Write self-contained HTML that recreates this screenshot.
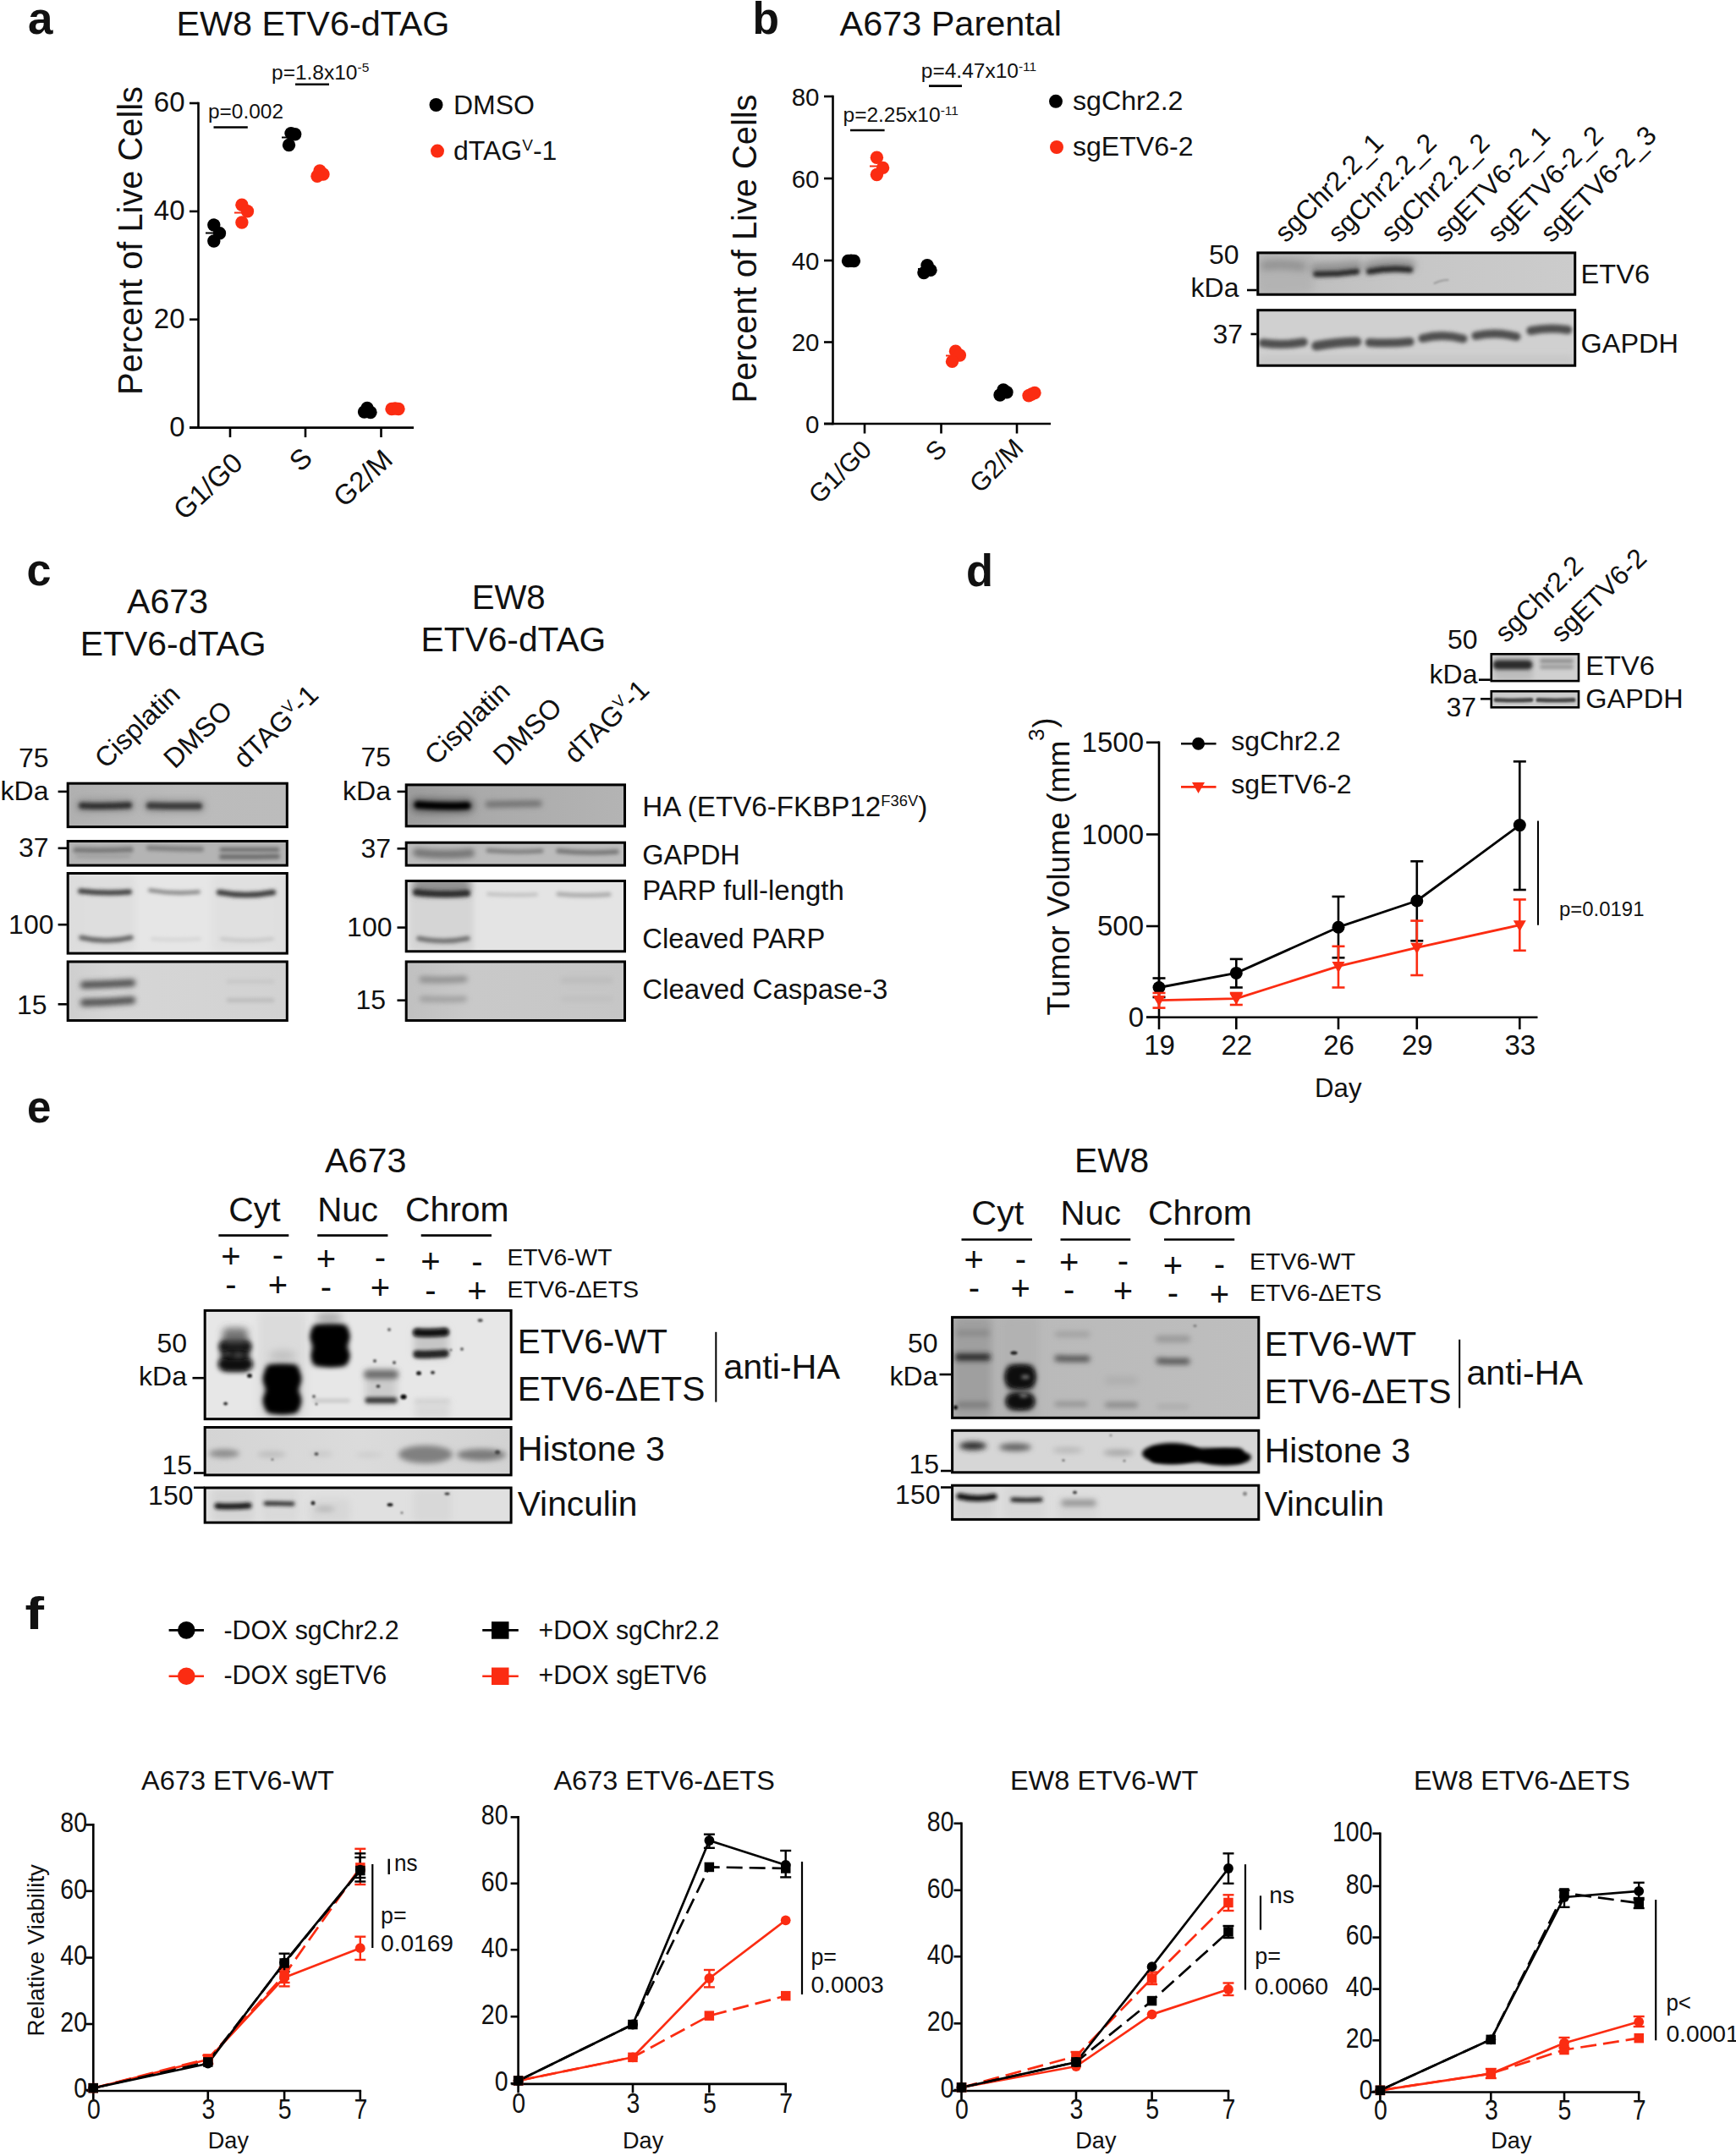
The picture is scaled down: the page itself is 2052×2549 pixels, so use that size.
<!DOCTYPE html>
<html lang="en"><head><meta charset="utf-8"><title>Figure</title>
<style>
html,body{margin:0;padding:0;background:#fff}
svg{display:block}
text{font-family:"Liberation Sans",Arial,Helvetica,sans-serif}
</style></head>
<body>
<svg width="2052" height="2549" viewBox="0 0 2052 2549">
<defs>
<filter id="bl1" x="-5%" y="-15%" width="110%" height="130%"><feGaussianBlur stdDeviation="1"/></filter>
<filter id="bl2" x="-5%" y="-15%" width="110%" height="130%"><feGaussianBlur stdDeviation="2"/></filter>
<filter id="bl3" x="-5%" y="-15%" width="110%" height="130%"><feGaussianBlur stdDeviation="3"/></filter>
<filter id="bl4" x="-5%" y="-15%" width="110%" height="130%"><feGaussianBlur stdDeviation="4"/></filter>
<filter id="bl5" x="-5%" y="-15%" width="110%" height="130%"><feGaussianBlur stdDeviation="5"/></filter>
<filter id="bl6" x="-5%" y="-15%" width="110%" height="130%"><feGaussianBlur stdDeviation="6"/></filter>
<clipPath id="cp1"><rect x="1485.3" y="297.4" width="377.9" height="52.3"/></clipPath>
<linearGradient id="gr1" x1="0" x2="1" y1="0" y2="0"><stop offset="0" stop-color="#bababa"/><stop offset="0.45" stop-color="#c6c6c6"/><stop offset="1" stop-color="#cccccc"/></linearGradient>
<clipPath id="cp2"><rect x="1485.3" y="365.2" width="377.9" height="68.5"/></clipPath>
<clipPath id="cp3"><rect x="78.7" y="924.7" width="262.1" height="54.4"/></clipPath>
<linearGradient id="gr3" x1="0" x2="1" y1="0" y2="0"><stop offset="0" stop-color="#b0b0b0"/><stop offset="0.5" stop-color="#bbbbbb"/><stop offset="1" stop-color="#bcbcbc"/></linearGradient>
<clipPath id="cp4"><rect x="78.7" y="993.0" width="262.1" height="31.6"/></clipPath>
<clipPath id="cp5"><rect x="78.7" y="1031.0" width="262.1" height="97.6"/></clipPath>
<linearGradient id="gr5" x1="0" x2="1" y1="0" y2="0"><stop offset="0" stop-color="#dadada"/><stop offset="0.1" stop-color="#e6e6e6"/><stop offset="0.9" stop-color="#e6e6e6"/><stop offset="1" stop-color="#dcdcdc"/></linearGradient>
<clipPath id="cp6"><rect x="78.7" y="1135.5" width="262.1" height="72.5"/></clipPath>
<linearGradient id="gr6" x1="0" x2="1" y1="0" y2="0"><stop offset="0" stop-color="#cecece"/><stop offset="0.2" stop-color="#d6d6d6"/><stop offset="1" stop-color="#d2d2d2"/></linearGradient>
<clipPath id="cp7"><rect x="478.7" y="926.4" width="261.3" height="51.9"/></clipPath>
<linearGradient id="gr7" x1="0" x2="1" y1="0" y2="0"><stop offset="0" stop-color="#9c9c9c"/><stop offset="0.35" stop-color="#aaaaaa"/><stop offset="1" stop-color="#b4b4b4"/></linearGradient>
<clipPath id="cp8"><rect x="478.7" y="994.7" width="261.3" height="29.9"/></clipPath>
<clipPath id="cp9"><rect x="478.7" y="1040.0" width="261.3" height="86.3"/></clipPath>
<clipPath id="cp10"><rect x="478.7" y="1135.5" width="261.3" height="72.5"/></clipPath>
<linearGradient id="gr10" x1="0" x2="1" y1="0" y2="0"><stop offset="0" stop-color="#c0c0c0"/><stop offset="0.3" stop-color="#c9c9c9"/><stop offset="1" stop-color="#c6c6c6"/></linearGradient>
<clipPath id="cp11"><rect x="1761.5" y="772.0" width="105.8" height="34.4"/></clipPath>
<clipPath id="cp12"><rect x="1761.5" y="816.0" width="105.8" height="21.6"/></clipPath>
<clipPath id="cp13"><rect x="240.7" y="1547.9" width="364.9" height="131.3"/></clipPath>
<clipPath id="cp14"><rect x="240.7" y="1686.0" width="364.9" height="59.4"/></clipPath>
<linearGradient id="gr14" x1="0" x2="1" y1="0" y2="0"><stop offset="0" stop-color="#d4d4d4"/><stop offset="0.5" stop-color="#dbdbdb"/><stop offset="1" stop-color="#d2d2d2"/></linearGradient>
<clipPath id="cp15"><rect x="240.7" y="1757.5" width="364.9" height="44.1"/></clipPath>
<clipPath id="cp16"><rect x="1124.1" y="1555.9" width="365.2" height="121.9"/></clipPath>
<linearGradient id="gr16" x1="0" x2="1" y1="0" y2="0"><stop offset="0" stop-color="#b0b0b0"/><stop offset="0.3" stop-color="#bababa"/><stop offset="1" stop-color="#bebebe"/></linearGradient>
<clipPath id="cp17"><rect x="1124.1" y="1689.8" width="365.2" height="52.5"/></clipPath>
<clipPath id="cp18"><rect x="1124.1" y="1754.7" width="365.2" height="43.2"/></clipPath>
</defs>
<rect width="2052" height="2549" fill="#fff"/>
<g fill="#111">
<text x="33.0" y="39.5" font-size="54" font-weight="bold" textLength="29.5" lengthAdjust="spacingAndGlyphs">a</text>
<text x="208.5" y="41.5" font-size="40" textLength="323.0" lengthAdjust="spacingAndGlyphs">EW8 ETV6-dTAG</text>
<line x1="234.5" y1="120.7" x2="234.5" y2="506.9" stroke="#000" stroke-width="2.6"/>
<line x1="224.0" y1="505.6" x2="489.0" y2="505.6" stroke="#000" stroke-width="2.6"/>
<line x1="224.0" y1="122.0" x2="234.5" y2="122.0" stroke="#000" stroke-width="2.6"/>
<text x="218.5" y="132.3" font-size="33" text-anchor="end">60</text>
<line x1="224.0" y1="249.9" x2="234.5" y2="249.9" stroke="#000" stroke-width="2.6"/>
<text x="218.5" y="260.2" font-size="33" text-anchor="end">40</text>
<line x1="224.0" y1="377.7" x2="234.5" y2="377.7" stroke="#000" stroke-width="2.6"/>
<text x="218.5" y="388.0" font-size="33" text-anchor="end">20</text>
<line x1="224.0" y1="505.6" x2="234.5" y2="505.6" stroke="#000" stroke-width="2.6"/>
<text x="218.5" y="515.9" font-size="33" text-anchor="end">0</text>
<line x1="272.0" y1="505.6" x2="272.0" y2="517.0" stroke="#000" stroke-width="2.6"/>
<line x1="361.0" y1="505.6" x2="361.0" y2="517.0" stroke="#000" stroke-width="2.6"/>
<line x1="450.5" y1="505.6" x2="450.5" y2="517.0" stroke="#000" stroke-width="2.6"/>
<text x="168.0" y="284.5" font-size="40" text-anchor="middle" transform="rotate(-90 168.0 284.5)" textLength="365.0" lengthAdjust="spacingAndGlyphs">Percent of Live Cells</text>
<text x="289.0" y="550.0" font-size="33" text-anchor="end" transform="rotate(-43 289.0 550.0)">G1/G0</text>
<text x="371.0" y="544.0" font-size="33" text-anchor="end" transform="rotate(-43 371.0 544.0)">S</text>
<text x="466.0" y="546.0" font-size="33" text-anchor="end" transform="rotate(-43 466.0 546.0)">G2/M</text>
<text x="321.0" y="93.5" font-size="24.5">p=1.8x10<tspan font-size="15.5" dy="-8.5">-5</tspan></text>
<line x1="349.0" y1="99.8" x2="389.0" y2="99.8" stroke="#000" stroke-width="2.6"/>
<text x="246.0" y="140.0" font-size="24.5" textLength="89.0" lengthAdjust="spacingAndGlyphs">p=0.002</text>
<line x1="252.5" y1="150.5" x2="292.8" y2="150.5" stroke="#000" stroke-width="2.6"/>
<circle cx="252.8" cy="266.0" r="7.7" fill="#000"/>
<circle cx="259.5" cy="275.7" r="7.7" fill="#000"/>
<circle cx="252.8" cy="285.0" r="7.7" fill="#000"/>
<line x1="243.0" y1="275.5" x2="262.0" y2="275.5" stroke="#000" stroke-width="2"/>
<circle cx="285.9" cy="242.3" r="7.7" fill="#fb2c12"/>
<circle cx="292.5" cy="249.8" r="7.7" fill="#fb2c12"/>
<circle cx="285.9" cy="263.0" r="7.7" fill="#fb2c12"/>
<line x1="277.0" y1="251.5" x2="296.0" y2="251.5" stroke="#fb2c12" stroke-width="2"/>
<circle cx="348.7" cy="158.8" r="7.7" fill="#000"/>
<circle cx="344.0" cy="157.6" r="7.7" fill="#000"/>
<circle cx="341.5" cy="171.5" r="7.7" fill="#000"/>
<line x1="333.0" y1="162.5" x2="352.0" y2="162.5" stroke="#000" stroke-width="2"/>
<circle cx="378.0" cy="202.0" r="7.7" fill="#fb2c12"/>
<circle cx="382.0" cy="206.0" r="7.7" fill="#fb2c12"/>
<circle cx="375.0" cy="208.3" r="7.7" fill="#fb2c12"/>
<circle cx="430.6" cy="487.0" r="7.7" fill="#000"/>
<circle cx="438.0" cy="487.5" r="7.7" fill="#000"/>
<circle cx="434.0" cy="482.5" r="7.7" fill="#000"/>
<circle cx="463.0" cy="483.5" r="7.7" fill="#fb2c12"/>
<circle cx="467.0" cy="483.0" r="7.7" fill="#fb2c12"/>
<circle cx="471.0" cy="483.5" r="7.7" fill="#fb2c12"/>
<circle cx="515.5" cy="124.0" r="8" fill="#000"/>
<text x="536.0" y="134.8" font-size="32" textLength="96.0" lengthAdjust="spacingAndGlyphs">DMSO</text>
<circle cx="517.0" cy="178.6" r="8" fill="#fb2c12"/>
<text x="536.0" y="188.7" font-size="32">dTAG<tspan font-size="19" dy="-11">V</tspan><tspan dy="11">-1</tspan></text>
<text x="889.5" y="40.3" font-size="54" font-weight="bold" textLength="31.5" lengthAdjust="spacingAndGlyphs">b</text>
<text x="992.5" y="41.5" font-size="40" textLength="262.5" lengthAdjust="spacingAndGlyphs">A673 Parental</text>
<line x1="984.5" y1="112.8" x2="984.5" y2="502.3" stroke="#000" stroke-width="2.6"/>
<line x1="974.0" y1="501.0" x2="1242.0" y2="501.0" stroke="#000" stroke-width="2.6"/>
<line x1="974.0" y1="114.0" x2="984.5" y2="114.0" stroke="#000" stroke-width="2.6"/>
<text x="968.5" y="124.6" font-size="29.5" text-anchor="end">80</text>
<line x1="974.0" y1="211.0" x2="984.5" y2="211.0" stroke="#000" stroke-width="2.6"/>
<text x="968.5" y="221.6" font-size="29.5" text-anchor="end">60</text>
<line x1="974.0" y1="308.0" x2="984.5" y2="308.0" stroke="#000" stroke-width="2.6"/>
<text x="968.5" y="318.6" font-size="29.5" text-anchor="end">40</text>
<line x1="974.0" y1="404.5" x2="984.5" y2="404.5" stroke="#000" stroke-width="2.6"/>
<text x="968.5" y="415.1" font-size="29.5" text-anchor="end">20</text>
<line x1="974.0" y1="501.0" x2="984.5" y2="501.0" stroke="#000" stroke-width="2.6"/>
<text x="968.5" y="511.6" font-size="29.5" text-anchor="end">0</text>
<line x1="1022.0" y1="501.0" x2="1022.0" y2="512.5" stroke="#000" stroke-width="2.6"/>
<line x1="1112.5" y1="501.0" x2="1112.5" y2="512.5" stroke="#000" stroke-width="2.6"/>
<line x1="1202.0" y1="501.0" x2="1202.0" y2="512.5" stroke="#000" stroke-width="2.6"/>
<text x="893.5" y="294.0" font-size="40" text-anchor="middle" transform="rotate(-90 893.5 294.0)" textLength="365.0" lengthAdjust="spacingAndGlyphs">Percent of Live Cells</text>
<text x="1032.0" y="533.5" font-size="30.5" text-anchor="end" transform="rotate(-45 1032.0 533.5)">G1/G0</text>
<text x="1121.0" y="532.6" font-size="30.5" text-anchor="end" transform="rotate(-45 1121.0 532.6)">S</text>
<text x="1211.5" y="531.5" font-size="30.5" text-anchor="end" transform="rotate(-45 1211.5 531.5)">G2/M</text>
<text x="1088.8" y="92.0" font-size="24.5">p=4.47x10<tspan font-size="15.5" dy="-8.5">-11</tspan></text>
<line x1="1098.0" y1="101.6" x2="1137.0" y2="101.6" stroke="#000" stroke-width="2.6"/>
<text x="996.5" y="144.0" font-size="24.5">p=2.25x10<tspan font-size="15.5" dy="-8.5">-11</tspan></text>
<line x1="1005.0" y1="154.0" x2="1045.6" y2="154.0" stroke="#000" stroke-width="2.6"/>
<circle cx="1036.4" cy="186.3" r="7.7" fill="#fb2c12"/>
<circle cx="1043.6" cy="198.4" r="7.7" fill="#fb2c12"/>
<circle cx="1036.4" cy="206.5" r="7.7" fill="#fb2c12"/>
<line x1="1028.0" y1="196.5" x2="1046.0" y2="196.5" stroke="#fb2c12" stroke-width="2"/>
<circle cx="1002.5" cy="308.5" r="7.7" fill="#000"/>
<circle cx="1006.0" cy="308.3" r="7.7" fill="#000"/>
<circle cx="1009.4" cy="308.5" r="7.7" fill="#000"/>
<circle cx="1096.0" cy="313.7" r="7.7" fill="#000"/>
<circle cx="1100.0" cy="319.4" r="7.7" fill="#000"/>
<circle cx="1092.0" cy="322.6" r="7.7" fill="#000"/>
<line x1="1085.0" y1="318.0" x2="1103.0" y2="318.0" stroke="#000" stroke-width="2"/>
<circle cx="1129.5" cy="415.3" r="7.7" fill="#fb2c12"/>
<circle cx="1134.4" cy="420.0" r="7.7" fill="#fb2c12"/>
<circle cx="1125.5" cy="427.4" r="7.7" fill="#fb2c12"/>
<line x1="1118.0" y1="420.5" x2="1137.0" y2="420.5" stroke="#fb2c12" stroke-width="2"/>
<circle cx="1186.0" cy="461.0" r="7.7" fill="#000"/>
<circle cx="1182.0" cy="467.0" r="7.7" fill="#000"/>
<circle cx="1190.0" cy="463.7" r="7.7" fill="#000"/>
<circle cx="1216.0" cy="467.7" r="7.7" fill="#fb2c12"/>
<circle cx="1219.5" cy="466.0" r="7.7" fill="#fb2c12"/>
<circle cx="1223.0" cy="464.5" r="7.7" fill="#fb2c12"/>
<circle cx="1248.0" cy="119.8" r="8" fill="#000"/>
<text x="1268.0" y="129.8" font-size="32" textLength="130.5" lengthAdjust="spacingAndGlyphs">sgChr2.2</text>
<circle cx="1249.0" cy="174.0" r="8" fill="#fb2c12"/>
<text x="1268.0" y="184.0" font-size="32" textLength="142.5" lengthAdjust="spacingAndGlyphs">sgETV6-2</text>
<text x="1520.0" y="288.0" font-size="32" transform="rotate(-45 1520.0 288.0)">sgChr2.2_1</text>
<text x="1582.8" y="288.0" font-size="32" transform="rotate(-45 1582.8 288.0)">sgChr2.2_2</text>
<text x="1645.6" y="288.0" font-size="32" transform="rotate(-45 1645.6 288.0)">sgChr2.2_2</text>
<text x="1708.4" y="288.0" font-size="32" transform="rotate(-45 1708.4 288.0)">sgETV6-2_1</text>
<text x="1771.2" y="288.0" font-size="32" transform="rotate(-45 1771.2 288.0)">sgETV6-2_2</text>
<text x="1834.0" y="288.0" font-size="32" transform="rotate(-45 1834.0 288.0)">sgETV6-2_3</text>
<text x="1464.5" y="312.0" font-size="32" text-anchor="end">50</text>
<text x="1464.5" y="351.0" font-size="32" text-anchor="end">kDa</text>
<text x="1469.0" y="405.8" font-size="32" text-anchor="end">37</text>
<line x1="1474.0" y1="343.0" x2="1486.0" y2="343.0" stroke="#000" stroke-width="2.6"/>
<line x1="1478.5" y1="395.0" x2="1486.0" y2="395.0" stroke="#000" stroke-width="2.6"/>
<g clip-path="url(#cp1)">
<rect x="1485.3" y="297.4" width="377.9" height="52.3" fill="url(#gr1)"/>
<g filter="url(#bl5)"><rect x="1485.3" y="297.4" width="377.9" height="52.3" fill="none"/><rect x="1488.0" y="300.0" width="64.0" height="47.0" rx="6" fill="#b0b0b0" opacity="0.8"/></g>
<g filter="url(#bl4)"><rect x="1485.3" y="297.4" width="377.9" height="52.3" fill="none"/><path d="M1494.8 314.0 Q1516.8 311.5 1538.8 315.0" fill="none" stroke="#909090" stroke-width="10" stroke-linecap="round"/></g>
<g filter="url(#bl4)"><rect x="1485.3" y="297.4" width="377.9" height="52.3" fill="none"/><path d="M1555.7 318.0 Q1579.7 317.5 1603.7 315.0" fill="none" stroke="#808080" stroke-width="14" stroke-linecap="round" opacity="0.7"/></g>
<g filter="url(#bl2)"><rect x="1485.3" y="297.4" width="377.9" height="52.3" fill="none"/><path d="M1555.7 324.0 Q1579.7 324.5 1603.7 321.0" fill="none" stroke="#2a2a2a" stroke-width="7" stroke-linecap="round"/></g>
<g filter="url(#bl4)"><rect x="1485.3" y="297.4" width="377.9" height="52.3" fill="none"/><path d="M1618.6 316.0 Q1642.6 311.0 1666.6 314.0" fill="none" stroke="#808080" stroke-width="14" stroke-linecap="round" opacity="0.7"/></g>
<g filter="url(#bl2)"><rect x="1485.3" y="297.4" width="377.9" height="52.3" fill="none"/><path d="M1618.6 321.0 Q1642.6 316.0 1666.6 319.0" fill="none" stroke="#2a2a2a" stroke-width="7" stroke-linecap="round"/></g>
<g filter="url(#bl1)"><rect x="1485.3" y="297.4" width="377.9" height="52.3" fill="none"/><path d="M1695.5 335.0 Q1703.5 331.0 1711.5 331.0" fill="none" stroke="#9a9a9a" stroke-width="2" stroke-linecap="round"/></g>
</g>
<rect x="1486.8" y="298.9" width="374.9" height="49.3" fill="none" stroke="#000" stroke-width="3"/>
<g clip-path="url(#cp2)">
<rect x="1485.3" y="365.2" width="377.9" height="68.5" fill="#d0d0d0"/>
<g filter="url(#bl2)"><rect x="1485.3" y="365.2" width="377.9" height="68.5" fill="none"/><path d="M1492.8 405.5 Q1516.8 409.0 1540.8 404.5" fill="none" stroke="#505050" stroke-width="10" stroke-linecap="round"/></g>
<g filter="url(#bl2)"><rect x="1485.3" y="365.2" width="377.9" height="68.5" fill="none"/><path d="M1555.7 409.0 Q1579.7 404.5 1603.7 404.0" fill="none" stroke="#505050" stroke-width="11" stroke-linecap="round"/></g>
<g filter="url(#bl2)"><rect x="1485.3" y="365.2" width="377.9" height="68.5" fill="none"/><path d="M1618.6 405.0 Q1642.6 406.5 1666.6 404.0" fill="none" stroke="#505050" stroke-width="10" stroke-linecap="round"/></g>
<g filter="url(#bl2)"><rect x="1485.3" y="365.2" width="377.9" height="68.5" fill="none"/><path d="M1681.5 400.0 Q1705.5 393.8 1729.5 400.5" fill="none" stroke="#505050" stroke-width="10" stroke-linecap="round"/></g>
<g filter="url(#bl2)"><rect x="1485.3" y="365.2" width="377.9" height="68.5" fill="none"/><path d="M1744.4 397.0 Q1768.4 391.5 1792.4 398.0" fill="none" stroke="#505050" stroke-width="10" stroke-linecap="round"/></g>
<g filter="url(#bl2)"><rect x="1485.3" y="365.2" width="377.9" height="68.5" fill="none"/><path d="M1809.3 391.0 Q1831.3 386.5 1853.3 390.0" fill="none" stroke="#505050" stroke-width="10" stroke-linecap="round"/></g>
<g filter="url(#bl3)"><rect x="1485.3" y="365.2" width="377.9" height="68.5" fill="none"/><rect x="1488.0" y="420.0" width="372.0" height="12.0" rx="6" fill="#c4c4c4" opacity="0.7"/></g>
</g>
<rect x="1486.8" y="366.7" width="374.9" height="65.5" fill="none" stroke="#000" stroke-width="3"/>
<text x="1868.6" y="335.0" font-size="32" textLength="81.4" lengthAdjust="spacingAndGlyphs">ETV6</text>
<text x="1868.6" y="416.7" font-size="32" textLength="115.4" lengthAdjust="spacingAndGlyphs">GAPDH</text>
<text x="31.5" y="692.3" font-size="54" font-weight="bold" textLength="29.0" lengthAdjust="spacingAndGlyphs">c</text>
<text x="150.0" y="725.4" font-size="40" textLength="96.0" lengthAdjust="spacingAndGlyphs">A673</text>
<text x="94.8" y="775.0" font-size="40" textLength="219.7" lengthAdjust="spacingAndGlyphs">ETV6-dTAG</text>
<text x="557.7" y="719.7" font-size="40" textLength="87.0" lengthAdjust="spacingAndGlyphs">EW8</text>
<text x="497.6" y="769.8" font-size="40" textLength="218.6" lengthAdjust="spacingAndGlyphs">ETV6-dTAG</text>
<text x="125.0" y="910.0" font-size="32.5" transform="rotate(-44 125.0 910.0)">Cisplatin</text>
<text x="206.5" y="910.0" font-size="32.5" transform="rotate(-44 206.5 910.0)">DMSO</text>
<text x="289.0" y="910.0" font-size="32.5" transform="rotate(-44 289.0 910.0)">dTAG<tspan font-size="19" dy="-11">V</tspan><tspan dy="11">-1</tspan></text>
<text x="515.0" y="906.0" font-size="32.5" transform="rotate(-44 515.0 906.0)">Cisplatin</text>
<text x="596.0" y="906.5" font-size="32.5" transform="rotate(-44 596.0 906.5)">DMSO</text>
<text x="680.0" y="904.0" font-size="32.5" transform="rotate(-44 680.0 904.0)">dTAG<tspan font-size="19" dy="-11">V</tspan><tspan dy="11">-1</tspan></text>
<text x="57.5" y="906.9" font-size="32" text-anchor="end">75</text>
<text x="57.5" y="946.4" font-size="32" text-anchor="end">kDa</text>
<text x="57.5" y="1013.0" font-size="32" text-anchor="end">37</text>
<text x="63.5" y="1103.8" font-size="32" text-anchor="end">100</text>
<text x="55.5" y="1198.5" font-size="32" text-anchor="end">15</text>
<line x1="68.6" y1="935.9" x2="80.0" y2="935.9" stroke="#000" stroke-width="2.6"/>
<line x1="68.6" y1="1002.8" x2="80.0" y2="1002.8" stroke="#000" stroke-width="2.6"/>
<line x1="68.6" y1="1093.2" x2="80.0" y2="1093.2" stroke="#000" stroke-width="2.6"/>
<line x1="68.6" y1="1187.3" x2="80.0" y2="1187.3" stroke="#000" stroke-width="2.6"/>
<text x="462.0" y="905.7" font-size="32" text-anchor="end">75</text>
<text x="462.0" y="945.6" font-size="32" text-anchor="end">kDa</text>
<text x="462.0" y="1013.7" font-size="32" text-anchor="end">37</text>
<text x="463.5" y="1107.0" font-size="32" text-anchor="end">100</text>
<text x="456.0" y="1192.5" font-size="32" text-anchor="end">15</text>
<line x1="469.5" y1="935.9" x2="480.0" y2="935.9" stroke="#000" stroke-width="2.6"/>
<line x1="469.5" y1="1003.3" x2="480.0" y2="1003.3" stroke="#000" stroke-width="2.6"/>
<line x1="469.5" y1="1096.6" x2="480.0" y2="1096.6" stroke="#000" stroke-width="2.6"/>
<line x1="469.5" y1="1182.7" x2="480.0" y2="1182.7" stroke="#000" stroke-width="2.6"/>
<g clip-path="url(#cp3)">
<rect x="78.7" y="924.7" width="262.1" height="54.4" fill="url(#gr3)"/>
<g filter="url(#bl4)"><rect x="78.7" y="924.7" width="262.1" height="54.4" fill="none"/><path d="M97.0 952.5 Q124.5 951.8 152.0 952.0" fill="none" stroke="#8a8a8a" stroke-width="16" stroke-linecap="round" opacity="0.7"/></g>
<g filter="url(#bl2)"><rect x="78.7" y="924.7" width="262.1" height="54.4" fill="none"/><path d="M97.0 952.5 Q124.5 953.8 152.0 952.0" fill="none" stroke="#333" stroke-width="8" stroke-linecap="round"/></g>
<g filter="url(#bl4)"><rect x="78.7" y="924.7" width="262.1" height="54.4" fill="none"/><path d="M177.0 952.5 Q206.0 953.2 235.0 953.0" fill="none" stroke="#8a8a8a" stroke-width="16" stroke-linecap="round" opacity="0.7"/></g>
<g filter="url(#bl2)"><rect x="78.7" y="924.7" width="262.1" height="54.4" fill="none"/><path d="M177.0 952.5 Q206.0 953.2 235.0 953.0" fill="none" stroke="#3a3a3a" stroke-width="8" stroke-linecap="round"/></g>
</g>
<rect x="80.2" y="926.2" width="259.1" height="51.4" fill="none" stroke="#000" stroke-width="3"/>
<g clip-path="url(#cp4)">
<rect x="78.7" y="993.0" width="262.1" height="31.6" fill="#b4b4b4"/>
<g filter="url(#bl2)"><rect x="78.7" y="993.0" width="262.1" height="31.6" fill="none"/><path d="M90.0 1005.0 Q122.0 1006.2 154.0 1004.5" fill="none" stroke="#7a7a7a" stroke-width="7" stroke-linecap="round"/></g>
<g filter="url(#bl2)"><rect x="78.7" y="993.0" width="262.1" height="31.6" fill="none"/><path d="M92.0 1012.0 Q122.0 1013.0 152.0 1012.0" fill="none" stroke="#a0a0a0" stroke-width="5" stroke-linecap="round"/></g>
<g filter="url(#bl2)"><rect x="78.7" y="993.0" width="262.1" height="31.6" fill="none"/><path d="M176.0 1002.5 Q207.0 1003.8 238.0 1004.0" fill="none" stroke="#808080" stroke-width="6" stroke-linecap="round"/></g>
<g filter="url(#bl2)"><rect x="78.7" y="993.0" width="262.1" height="31.6" fill="none"/><path d="M262.0 1004.5 Q295.0 1004.5 328.0 1004.5" fill="none" stroke="#6c6c6c" stroke-width="5" stroke-linecap="round"/></g>
<g filter="url(#bl2)"><rect x="78.7" y="993.0" width="262.1" height="31.6" fill="none"/><path d="M262.0 1013.0 Q295.0 1013.2 328.0 1012.5" fill="none" stroke="#6c6c6c" stroke-width="6" stroke-linecap="round"/></g>
</g>
<rect x="80.2" y="994.5" width="259.1" height="28.6" fill="none" stroke="#000" stroke-width="3"/>
<g clip-path="url(#cp5)">
<rect x="78.7" y="1031.0" width="262.1" height="97.6" fill="url(#gr5)"/>
<g filter="url(#bl4)"><rect x="78.7" y="1031.0" width="262.1" height="97.6" fill="none"/><rect x="84.0" y="1034.0" width="76.0" height="92.0" rx="6" fill="#dcdcdc" opacity="0.8"/></g>
<g filter="url(#bl4)"><rect x="78.7" y="1031.0" width="262.1" height="97.6" fill="none"/><rect x="250.0" y="1034.0" width="84.0" height="92.0" rx="6" fill="#dedede" opacity="0.8"/></g>
<g filter="url(#bl2)"><rect x="78.7" y="1031.0" width="262.1" height="97.6" fill="none"/><path d="M95.0 1053.5 Q124.0 1057.0 153.0 1054.5" fill="none" stroke="#3c3c3c" stroke-width="6" stroke-linecap="round"/></g>
<g filter="url(#bl2)"><rect x="78.7" y="1031.0" width="262.1" height="97.6" fill="none"/><path d="M177.0 1052.5 Q206.0 1057.5 235.0 1054.5" fill="none" stroke="#7c7c7c" stroke-width="4" stroke-linecap="round"/></g>
<g filter="url(#bl2)"><rect x="78.7" y="1031.0" width="262.1" height="97.6" fill="none"/><path d="M259.0 1055.0 Q291.0 1061.0 323.0 1055.0" fill="none" stroke="#3c3c3c" stroke-width="6.5" stroke-linecap="round"/></g>
<g filter="url(#bl2)"><rect x="78.7" y="1031.0" width="262.1" height="97.6" fill="none"/><path d="M96.0 1108.5 Q125.5 1115.5 155.0 1108.5" fill="none" stroke="#606060" stroke-width="5.5" stroke-linecap="round"/></g>
<g filter="url(#bl2)"><rect x="78.7" y="1031.0" width="262.1" height="97.6" fill="none"/><path d="M180.0 1110.0 Q208.0 1112.0 236.0 1110.0" fill="none" stroke="#d4d4d4" stroke-width="4" stroke-linecap="round"/></g>
<g filter="url(#bl2)"><rect x="78.7" y="1031.0" width="262.1" height="97.6" fill="none"/><path d="M262.0 1110.0 Q292.0 1114.0 322.0 1110.0" fill="none" stroke="#c6c6c6" stroke-width="4" stroke-linecap="round"/></g>
</g>
<rect x="80.2" y="1032.5" width="259.1" height="94.6" fill="none" stroke="#000" stroke-width="3"/>
<g clip-path="url(#cp6)">
<rect x="78.7" y="1135.5" width="262.1" height="72.5" fill="url(#gr6)"/>
<g filter="url(#bl3)"><rect x="78.7" y="1135.5" width="262.1" height="72.5" fill="none"/><path d="M99.0 1164.5 Q127.5 1163.8 156.0 1162.0" fill="none" stroke="#4c4c4c" stroke-width="8.5" stroke-linecap="round"/></g>
<g filter="url(#bl3)"><rect x="78.7" y="1135.5" width="262.1" height="72.5" fill="none"/><path d="M99.0 1185.5 Q127.5 1185.0 156.0 1182.5" fill="none" stroke="#4c4c4c" stroke-width="8.5" stroke-linecap="round"/></g>
<g filter="url(#bl2)"><rect x="78.7" y="1135.5" width="262.1" height="72.5" fill="none"/><path d="M270.0 1160.5 Q296.0 1160.5 322.0 1160.5" fill="none" stroke="#c8c8c8" stroke-width="5" stroke-linecap="round"/></g>
<g filter="url(#bl2)"><rect x="78.7" y="1135.5" width="262.1" height="72.5" fill="none"/><path d="M270.0 1182.5 Q296.0 1182.5 322.0 1182.5" fill="none" stroke="#bcbcbc" stroke-width="5" stroke-linecap="round"/></g>
</g>
<rect x="80.2" y="1137.0" width="259.1" height="69.5" fill="none" stroke="#000" stroke-width="3"/>
<g clip-path="url(#cp7)">
<rect x="478.7" y="926.4" width="261.3" height="51.9" fill="url(#gr7)"/>
<g filter="url(#bl4)"><rect x="478.7" y="926.4" width="261.3" height="51.9" fill="none"/><path d="M494.0 952.0 Q523.0 953.8 552.0 952.5" fill="none" stroke="#5a5a5a" stroke-width="18" stroke-linecap="round" opacity="0.8"/></g>
<g filter="url(#bl2)"><rect x="478.7" y="926.4" width="261.3" height="51.9" fill="none"/><path d="M494.0 951.5 Q523.0 954.0 552.0 952.5" fill="none" stroke="#060606" stroke-width="9" stroke-linecap="round"/></g>
<g filter="url(#bl3)"><rect x="478.7" y="926.4" width="261.3" height="51.9" fill="none"/><path d="M577.0 951.0 Q607.0 950.5 637.0 950.0" fill="none" stroke="#6c6c6c" stroke-width="7" stroke-linecap="round"/></g>
</g>
<rect x="480.2" y="927.9" width="258.3" height="48.9" fill="none" stroke="#000" stroke-width="3"/>
<g clip-path="url(#cp8)">
<rect x="478.7" y="994.7" width="261.3" height="29.9" fill="#bcbcbc"/>
<g filter="url(#bl3)"><rect x="478.7" y="994.7" width="261.3" height="29.9" fill="none"/><path d="M493.0 1008.0 Q524.5 1011.8 556.0 1008.5" fill="none" stroke="#747474" stroke-width="10" stroke-linecap="round"/></g>
<g filter="url(#bl2)"><rect x="478.7" y="994.7" width="261.3" height="29.9" fill="none"/><path d="M577.0 1005.5 Q608.5 1008.2 640.0 1006.0" fill="none" stroke="#7c7c7c" stroke-width="5" stroke-linecap="round"/></g>
<g filter="url(#bl2)"><rect x="478.7" y="994.7" width="261.3" height="29.9" fill="none"/><path d="M660.0 1006.0 Q694.5 1009.5 729.0 1007.0" fill="none" stroke="#747474" stroke-width="5.5" stroke-linecap="round"/></g>
</g>
<rect x="480.2" y="996.2" width="258.3" height="26.9" fill="none" stroke="#000" stroke-width="3"/>
<g clip-path="url(#cp9)">
<rect x="478.7" y="1040.0" width="261.3" height="86.3" fill="#e4e4e4"/>
<g filter="url(#bl3)"><rect x="478.7" y="1040.0" width="261.3" height="86.3" fill="none"/><rect x="484.0" y="1040.0" width="76.0" height="86.0" rx="6" fill="#d4d4d4" opacity="0.9"/></g>
<g filter="url(#bl4)"><rect x="478.7" y="1040.0" width="261.3" height="86.3" fill="none"/><rect x="488.0" y="1038.0" width="68.0" height="20.0" rx="6" fill="#808080" opacity="0.8"/></g>
<g filter="url(#bl2)"><rect x="478.7" y="1040.0" width="261.3" height="86.3" fill="none"/><path d="M492.0 1055.0 Q522.0 1058.5 552.0 1056.0" fill="none" stroke="#2c2c2c" stroke-width="8" stroke-linecap="round"/></g>
<g filter="url(#bl2)"><rect x="478.7" y="1040.0" width="261.3" height="86.3" fill="none"/><path d="M577.0 1057.0 Q605.5 1058.8 634.0 1057.5" fill="none" stroke="#bebebe" stroke-width="4" stroke-linecap="round"/></g>
<g filter="url(#bl2)"><rect x="478.7" y="1040.0" width="261.3" height="86.3" fill="none"/><path d="M660.0 1057.0 Q690.0 1059.8 720.0 1057.5" fill="none" stroke="#a8a8a8" stroke-width="5" stroke-linecap="round"/></g>
<g filter="url(#bl2)"><rect x="478.7" y="1040.0" width="261.3" height="86.3" fill="none"/><path d="M495.0 1109.5 Q524.0 1115.5 553.0 1109.5" fill="none" stroke="#6c6c6c" stroke-width="5.5" stroke-linecap="round"/></g>
</g>
<rect x="480.2" y="1041.5" width="258.3" height="83.3" fill="none" stroke="#000" stroke-width="3"/>
<g clip-path="url(#cp10)">
<rect x="478.7" y="1135.5" width="261.3" height="72.5" fill="url(#gr10)"/>
<g filter="url(#bl3)"><rect x="478.7" y="1135.5" width="261.3" height="72.5" fill="none"/><path d="M499.0 1158.0 Q524.0 1159.2 549.0 1157.5" fill="none" stroke="#8c8c8c" stroke-width="7" stroke-linecap="round"/></g>
<g filter="url(#bl3)"><rect x="478.7" y="1135.5" width="261.3" height="72.5" fill="none"/><path d="M499.0 1181.0 Q524.0 1182.0 549.0 1181.0" fill="none" stroke="#9a9a9a" stroke-width="6" stroke-linecap="round"/></g>
<g filter="url(#bl3)"><rect x="478.7" y="1135.5" width="261.3" height="72.5" fill="none"/><path d="M665.0 1159.0 Q693.5 1159.0 722.0 1159.0" fill="none" stroke="#b8b8b8" stroke-width="5" stroke-linecap="round"/></g>
<g filter="url(#bl3)"><rect x="478.7" y="1135.5" width="261.3" height="72.5" fill="none"/><path d="M665.0 1181.0 Q693.5 1181.0 722.0 1181.0" fill="none" stroke="#bebebe" stroke-width="5" stroke-linecap="round"/></g>
</g>
<rect x="480.2" y="1137.0" width="258.3" height="69.5" fill="none" stroke="#000" stroke-width="3"/>
<text x="759.3" y="965.4" font-size="32.5" textLength="337.0" lengthAdjust="spacingAndGlyphs">HA (ETV6-FKBP12<tspan font-size="18" dy="-12">F36V</tspan><tspan dy="12">)</tspan></text>
<text x="759.3" y="1022.0" font-size="32.5" textLength="115.5" lengthAdjust="spacingAndGlyphs">GAPDH</text>
<text x="759.3" y="1064.2" font-size="32.5" textLength="238.4" lengthAdjust="spacingAndGlyphs">PARP full-length</text>
<text x="759.3" y="1121.0" font-size="32.5" textLength="216.0" lengthAdjust="spacingAndGlyphs">Cleaved PARP</text>
<text x="759.3" y="1180.7" font-size="32.5" textLength="290.0" lengthAdjust="spacingAndGlyphs">Cleaved Caspase-3</text>
<text x="1142.0" y="692.6" font-size="54" font-weight="bold" textLength="32.0" lengthAdjust="spacingAndGlyphs">d</text>
<text x="1780.0" y="761.0" font-size="32" transform="rotate(-44 1780.0 761.0)">sgChr2.2</text>
<text x="1846.0" y="761.0" font-size="32" transform="rotate(-44 1846.0 761.0)">sgETV6-2</text>
<text x="1746.5" y="767.2" font-size="32" text-anchor="end">50</text>
<text x="1746.5" y="807.5" font-size="32" text-anchor="end">kDa</text>
<text x="1745.0" y="846.7" font-size="32" text-anchor="end">37</text>
<line x1="1748.0" y1="803.7" x2="1762.0" y2="803.7" stroke="#000" stroke-width="2.6"/>
<line x1="1750.0" y1="826.3" x2="1762.0" y2="826.3" stroke="#000" stroke-width="2.6"/>
<g clip-path="url(#cp11)">
<rect x="1761.5" y="772.0" width="105.8" height="34.4" fill="#d0d0d0"/>
<g filter="url(#bl3)"><rect x="1761.5" y="772.0" width="105.8" height="34.4" fill="none"/><rect x="1766.0" y="774.0" width="46.0" height="30.0" rx="6" fill="#b8b8b8" opacity="0.8"/></g>
<g filter="url(#bl2)"><rect x="1761.5" y="772.0" width="105.8" height="34.4" fill="none"/><path d="M1770.0 786.0 Q1788.0 786.0 1806.0 786.0" fill="none" stroke="#2c2c2c" stroke-width="11" stroke-linecap="round"/></g>
<g filter="url(#bl2)"><rect x="1761.5" y="772.0" width="105.8" height="34.4" fill="none"/><path d="M1822.0 781.5 Q1840.0 781.5 1858.0 781.5" fill="none" stroke="#7c7c7c" stroke-width="4" stroke-linecap="round"/></g>
<g filter="url(#bl2)"><rect x="1761.5" y="772.0" width="105.8" height="34.4" fill="none"/><path d="M1822.0 788.5 Q1840.0 788.5 1858.0 788.5" fill="none" stroke="#8c8c8c" stroke-width="4" stroke-linecap="round"/></g>
</g>
<rect x="1762.8" y="773.3" width="103.2" height="31.8" fill="none" stroke="#000" stroke-width="2.6"/>
<g clip-path="url(#cp12)">
<rect x="1761.5" y="816.0" width="105.8" height="21.6" fill="#cccccc"/>
<g filter="url(#bl1)"><rect x="1761.5" y="816.0" width="105.8" height="21.6" fill="none"/><path d="M1768.0 827.5 Q1789.0 828.5 1810.0 827.5" fill="none" stroke="#4a4a4a" stroke-width="5" stroke-linecap="round"/></g>
<g filter="url(#bl1)"><rect x="1761.5" y="816.0" width="105.8" height="21.6" fill="none"/><path d="M1818.0 827.5 Q1839.0 828.5 1860.0 827.5" fill="none" stroke="#4a4a4a" stroke-width="5" stroke-linecap="round"/></g>
</g>
<rect x="1762.8" y="817.3" width="103.2" height="19.0" fill="none" stroke="#000" stroke-width="2.6"/>
<text x="1874.3" y="798.4" font-size="32" textLength="81.7" lengthAdjust="spacingAndGlyphs">ETV6</text>
<text x="1874.3" y="837.0" font-size="32" textLength="115.4" lengthAdjust="spacingAndGlyphs">GAPDH</text>
<line x1="1370.0" y1="876.5" x2="1370.0" y2="1204.0" stroke="#000" stroke-width="2.6"/>
<line x1="1355.0" y1="1202.7" x2="1817.5" y2="1202.7" stroke="#000" stroke-width="2.6"/>
<line x1="1355.0" y1="877.8" x2="1370.0" y2="877.8" stroke="#000" stroke-width="2.6"/>
<text x="1352.0" y="889.0" font-size="33" text-anchor="end">1500</text>
<line x1="1355.0" y1="986.5" x2="1370.0" y2="986.5" stroke="#000" stroke-width="2.6"/>
<text x="1352.0" y="997.7" font-size="33" text-anchor="end">1000</text>
<line x1="1355.0" y1="1095.0" x2="1370.0" y2="1095.0" stroke="#000" stroke-width="2.6"/>
<text x="1352.0" y="1106.2" font-size="33" text-anchor="end">500</text>
<line x1="1355.0" y1="1202.7" x2="1370.0" y2="1202.7" stroke="#000" stroke-width="2.6"/>
<text x="1352.0" y="1213.9" font-size="33" text-anchor="end">0</text>
<line x1="1370.0" y1="1202.7" x2="1370.0" y2="1217.0" stroke="#000" stroke-width="2.6"/>
<text x="1370.5" y="1246.9" font-size="33" text-anchor="middle">19</text>
<line x1="1461.3" y1="1202.7" x2="1461.3" y2="1217.0" stroke="#000" stroke-width="2.6"/>
<text x="1461.8" y="1246.9" font-size="33" text-anchor="middle">22</text>
<line x1="1582.0" y1="1202.7" x2="1582.0" y2="1217.0" stroke="#000" stroke-width="2.6"/>
<text x="1582.5" y="1246.9" font-size="33" text-anchor="middle">26</text>
<line x1="1674.8" y1="1202.7" x2="1674.8" y2="1217.0" stroke="#000" stroke-width="2.6"/>
<text x="1675.3" y="1246.9" font-size="33" text-anchor="middle">29</text>
<line x1="1796.3" y1="1202.7" x2="1796.3" y2="1217.0" stroke="#000" stroke-width="2.6"/>
<text x="1796.8" y="1246.9" font-size="33" text-anchor="middle">33</text>
<text x="1581.8" y="1297.0" font-size="32" text-anchor="middle" textLength="55.5" lengthAdjust="spacingAndGlyphs">Day</text>
<text x="1264.0" y="1200.5" font-size="37.2" transform="rotate(-90 1264.0 1200.5)">Tumor Volume (mm<tspan font-size="26" dy="-30" dx="-0.5">3</tspan><tspan font-size="36" dy="12.5" dx="1">)</tspan></text>
<line x1="1396.0" y1="879.2" x2="1437.5" y2="879.2" stroke="#000" stroke-width="2.6"/>
<circle cx="1416.5" cy="879.2" r="7.5" fill="#000"/>
<text x="1455.2" y="887.0" font-size="32" textLength="129.5" lengthAdjust="spacingAndGlyphs">sgChr2.2</text>
<line x1="1396.0" y1="930.4" x2="1437.5" y2="930.4" stroke="#fb2c12" stroke-width="2.6"/>
<polygon points="1409.0,925.0 1424.0,925.0 1416.5,938.0" fill="#fb2c12"/>
<text x="1455.2" y="937.5" font-size="32" textLength="142.5" lengthAdjust="spacingAndGlyphs">sgETV6-2</text>
<line x1="1370.0" y1="1156.5" x2="1370.0" y2="1179.0" stroke="#000" stroke-width="2.6"/>
<line x1="1362.5" y1="1156.5" x2="1377.5" y2="1156.5" stroke="#000" stroke-width="2.6"/>
<line x1="1362.5" y1="1179.0" x2="1377.5" y2="1179.0" stroke="#000" stroke-width="2.6"/>
<line x1="1461.3" y1="1133.9" x2="1461.3" y2="1167.5" stroke="#000" stroke-width="2.6"/>
<line x1="1453.8" y1="1133.9" x2="1468.8" y2="1133.9" stroke="#000" stroke-width="2.6"/>
<line x1="1453.8" y1="1167.5" x2="1468.8" y2="1167.5" stroke="#000" stroke-width="2.6"/>
<line x1="1582.0" y1="1060.0" x2="1582.0" y2="1132.3" stroke="#000" stroke-width="2.6"/>
<line x1="1574.5" y1="1060.0" x2="1589.5" y2="1060.0" stroke="#000" stroke-width="2.6"/>
<line x1="1574.5" y1="1132.3" x2="1589.5" y2="1132.3" stroke="#000" stroke-width="2.6"/>
<line x1="1674.8" y1="1018.3" x2="1674.8" y2="1112.3" stroke="#000" stroke-width="2.6"/>
<line x1="1667.3" y1="1018.3" x2="1682.3" y2="1018.3" stroke="#000" stroke-width="2.6"/>
<line x1="1667.3" y1="1112.3" x2="1682.3" y2="1112.3" stroke="#000" stroke-width="2.6"/>
<line x1="1796.3" y1="900.3" x2="1796.3" y2="1052.0" stroke="#000" stroke-width="2.6"/>
<line x1="1788.8" y1="900.3" x2="1803.8" y2="900.3" stroke="#000" stroke-width="2.6"/>
<line x1="1788.8" y1="1052.0" x2="1803.8" y2="1052.0" stroke="#000" stroke-width="2.6"/>
<polyline points="1370.0,1167.5 1461.3,1150.4 1582.0,1096.2 1674.8,1065.0 1796.3,975.6" fill="none" stroke="#000" stroke-width="2.8" stroke-linejoin="round"/>
<circle cx="1370.0" cy="1167.5" r="7.5" fill="#000"/>
<circle cx="1461.3" cy="1150.4" r="7.5" fill="#000"/>
<circle cx="1582.0" cy="1096.2" r="7.5" fill="#000"/>
<circle cx="1674.8" cy="1065.0" r="7.5" fill="#000"/>
<circle cx="1796.3" cy="975.6" r="7.5" fill="#000"/>
<line x1="1370.0" y1="1174.0" x2="1370.0" y2="1191.6" stroke="#fb2c12" stroke-width="2.6"/>
<line x1="1362.5" y1="1174.0" x2="1377.5" y2="1174.0" stroke="#fb2c12" stroke-width="2.6"/>
<line x1="1362.5" y1="1191.6" x2="1377.5" y2="1191.6" stroke="#fb2c12" stroke-width="2.6"/>
<line x1="1461.3" y1="1174.0" x2="1461.3" y2="1188.0" stroke="#fb2c12" stroke-width="2.6"/>
<line x1="1453.8" y1="1174.0" x2="1468.8" y2="1174.0" stroke="#fb2c12" stroke-width="2.6"/>
<line x1="1453.8" y1="1188.0" x2="1468.8" y2="1188.0" stroke="#fb2c12" stroke-width="2.6"/>
<line x1="1582.0" y1="1118.8" x2="1582.0" y2="1167.5" stroke="#fb2c12" stroke-width="2.6"/>
<line x1="1574.5" y1="1118.8" x2="1589.5" y2="1118.8" stroke="#fb2c12" stroke-width="2.6"/>
<line x1="1574.5" y1="1167.5" x2="1589.5" y2="1167.5" stroke="#fb2c12" stroke-width="2.6"/>
<line x1="1674.8" y1="1088.6" x2="1674.8" y2="1153.0" stroke="#fb2c12" stroke-width="2.6"/>
<line x1="1667.3" y1="1088.6" x2="1682.3" y2="1088.6" stroke="#fb2c12" stroke-width="2.6"/>
<line x1="1667.3" y1="1153.0" x2="1682.3" y2="1153.0" stroke="#fb2c12" stroke-width="2.6"/>
<line x1="1796.3" y1="1063.5" x2="1796.3" y2="1123.8" stroke="#fb2c12" stroke-width="2.6"/>
<line x1="1788.8" y1="1063.5" x2="1803.8" y2="1063.5" stroke="#fb2c12" stroke-width="2.6"/>
<line x1="1788.8" y1="1123.8" x2="1803.8" y2="1123.8" stroke="#fb2c12" stroke-width="2.6"/>
<polyline points="1370.0,1182.6 1461.3,1180.6 1582.0,1142.4 1674.8,1120.3 1796.3,1093.7" fill="none" stroke="#fb2c12" stroke-width="2.8" stroke-linejoin="round"/>
<polygon points="1362.5,1177.1 1377.5,1177.1 1370.0,1190.1" fill="#fb2c12"/>
<polygon points="1453.8,1175.1 1468.8,1175.1 1461.3,1188.1" fill="#fb2c12"/>
<polygon points="1574.5,1136.9 1589.5,1136.9 1582.0,1149.9" fill="#fb2c12"/>
<polygon points="1667.3,1114.8 1682.3,1114.8 1674.8,1127.8" fill="#fb2c12"/>
<polygon points="1788.8,1088.2 1803.8,1088.2 1796.3,1101.2" fill="#fb2c12"/>
<line x1="1818.0" y1="970.6" x2="1818.0" y2="1093.7" stroke="#000" stroke-width="2"/>
<text x="1843.0" y="1082.6" font-size="24.5" textLength="100.5" lengthAdjust="spacingAndGlyphs">p=0.0191</text>
<text x="32.0" y="1326.6" font-size="54" font-weight="bold" textLength="28.5" lengthAdjust="spacingAndGlyphs">e</text>
<text x="384.0" y="1385.7" font-size="40" textLength="96.5" lengthAdjust="spacingAndGlyphs">A673</text>
<text x="270.3" y="1443.5" font-size="40" textLength="61.3" lengthAdjust="spacingAndGlyphs">Cyt</text>
<text x="375.2" y="1443.5" font-size="40" textLength="71.6" lengthAdjust="spacingAndGlyphs">Nuc</text>
<text x="479.0" y="1443.5" font-size="40" textLength="122.5" lengthAdjust="spacingAndGlyphs">Chrom</text>
<line x1="258.4" y1="1460.6" x2="341.3" y2="1460.6" stroke="#000" stroke-width="2.6"/>
<line x1="375.2" y1="1460.6" x2="458.4" y2="1460.6" stroke="#000" stroke-width="2.6"/>
<line x1="497.7" y1="1460.6" x2="581.0" y2="1460.6" stroke="#000" stroke-width="2.6"/>
<text x="272.9" y="1498.6" font-size="40" text-anchor="middle">+</text>
<text x="272.9" y="1532.4" font-size="40" text-anchor="middle">-</text>
<text x="328.4" y="1497.4" font-size="40" text-anchor="middle">-</text>
<text x="328.4" y="1532.8" font-size="40" text-anchor="middle">+</text>
<text x="385.5" y="1501.8" font-size="40" text-anchor="middle">+</text>
<text x="385.5" y="1534.6" font-size="40" text-anchor="middle">-</text>
<text x="449.4" y="1500.1" font-size="40" text-anchor="middle">-</text>
<text x="449.4" y="1536.1" font-size="40" text-anchor="middle">+</text>
<text x="509.0" y="1505.4" font-size="40" text-anchor="middle">+</text>
<text x="509.0" y="1539.4" font-size="40" text-anchor="middle">-</text>
<text x="563.9" y="1504.6" font-size="40" text-anchor="middle">-</text>
<text x="563.9" y="1539.9" font-size="40" text-anchor="middle">+</text>
<text x="599.4" y="1496.0" font-size="28.5" textLength="124.1" lengthAdjust="spacingAndGlyphs">ETV6-WT</text>
<text x="599.4" y="1533.9" font-size="28.5" textLength="155.8" lengthAdjust="spacingAndGlyphs">ETV6-ΔETS</text>
<text x="221.0" y="1598.5" font-size="32" text-anchor="end">50</text>
<text x="221.0" y="1638.0" font-size="32" text-anchor="end">kDa</text>
<line x1="227.5" y1="1629.2" x2="242.0" y2="1629.2" stroke="#000" stroke-width="2.6"/>
<text x="227.0" y="1743.3" font-size="32" text-anchor="end">15</text>
<line x1="229.0" y1="1741.5" x2="242.0" y2="1741.5" stroke="#000" stroke-width="2.6"/>
<text x="228.5" y="1778.7" font-size="32" text-anchor="end">150</text>
<line x1="229.0" y1="1758.8" x2="242.0" y2="1758.8" stroke="#000" stroke-width="2.6"/>
<g clip-path="url(#cp13)">
<rect x="240.7" y="1547.9" width="364.9" height="131.3" fill="#e7e7e7"/>
<g filter="url(#bl5)"><rect x="240.7" y="1547.9" width="364.9" height="131.3" fill="none"/><rect x="305.0" y="1550.0" width="57.0" height="127.0" rx="6" fill="#d8d8d8" opacity="0.8"/></g>
<g filter="url(#bl3)"><rect x="240.7" y="1547.9" width="364.9" height="131.3" fill="none"/><rect x="261.0" y="1584.0" width="34.0" height="37.0" rx="6" fill="#1a1a1a"/></g>
<g filter="url(#bl3)"><rect x="240.7" y="1547.9" width="364.9" height="131.3" fill="none"/><path d="M264.0 1592.0 Q278.0 1590.0 292.0 1592.0" fill="none" stroke="#0c0c0c" stroke-width="10" stroke-linecap="round"/></g>
<g filter="url(#bl3)"><rect x="240.7" y="1547.9" width="364.9" height="131.3" fill="none"/><path d="M264.0 1613.0 Q278.5 1615.0 293.0 1613.0" fill="none" stroke="#0c0c0c" stroke-width="12" stroke-linecap="round"/></g>
<g filter="url(#bl3)"><rect x="240.7" y="1547.9" width="364.9" height="131.3" fill="none"/><ellipse cx="282.0" cy="1602.0" rx="6.0" ry="3.0" fill="#707070" opacity="0.6"/></g>
<g filter="url(#bl2)"><rect x="240.7" y="1547.9" width="364.9" height="131.3" fill="none"/><ellipse cx="269.0" cy="1600.0" rx="4.0" ry="2.5" fill="#606060" opacity="0.5"/></g>
<g filter="url(#bl4)"><rect x="240.7" y="1547.9" width="364.9" height="131.3" fill="none"/><rect x="263.0" y="1570.0" width="30.0" height="20.0" rx="6" fill="#505050" opacity="0.75"/></g>
<g filter="url(#bl3)"><rect x="240.7" y="1547.9" width="364.9" height="131.3" fill="none"/><rect x="314.0" y="1613.0" width="39.0" height="58.0" rx="6" fill="#000"/></g>
<g filter="url(#bl3)"><rect x="240.7" y="1547.9" width="364.9" height="131.3" fill="none"/><ellipse cx="333.5" cy="1630.0" rx="22.5" ry="16.0" fill="#000"/></g>
<g filter="url(#bl3)"><rect x="240.7" y="1547.9" width="364.9" height="131.3" fill="none"/><ellipse cx="333.5" cy="1656.0" rx="22.5" ry="15.0" fill="#000"/></g>
<g filter="url(#bl5)"><rect x="240.7" y="1547.9" width="364.9" height="131.3" fill="none"/><ellipse cx="334.0" cy="1603.0" rx="16.0" ry="7.0" fill="#b0b0b0" opacity="0.6"/></g>
<g filter="url(#bl3)"><rect x="240.7" y="1547.9" width="364.9" height="131.3" fill="none"/><rect x="369.0" y="1566.0" width="42.0" height="49.0" rx="6" fill="#000"/></g>
<g filter="url(#bl3)"><rect x="240.7" y="1547.9" width="364.9" height="131.3" fill="none"/><ellipse cx="390.0" cy="1580.0" rx="23.0" ry="14.0" fill="#000"/></g>
<g filter="url(#bl3)"><rect x="240.7" y="1547.9" width="364.9" height="131.3" fill="none"/><ellipse cx="391.0" cy="1603.0" rx="22.0" ry="12.0" fill="#000"/></g>
<g filter="url(#bl4)"><rect x="240.7" y="1547.9" width="364.9" height="131.3" fill="none"/><ellipse cx="389.0" cy="1558.0" rx="16.0" ry="6.0" fill="#909090" opacity="0.7"/></g>
<g filter="url(#bl4)"><rect x="240.7" y="1547.9" width="364.9" height="131.3" fill="none"/><rect x="432.0" y="1618.0" width="37.0" height="42.0" rx="6" fill="#c4c4c4" opacity="0.8"/></g>
<g filter="url(#bl3)"><rect x="240.7" y="1547.9" width="364.9" height="131.3" fill="none"/><path d="M435.0 1625.0 Q450.5 1625.0 466.0 1625.0" fill="none" stroke="#6a6a6a" stroke-width="10" stroke-linecap="round"/></g>
<g filter="url(#bl2)"><rect x="240.7" y="1547.9" width="364.9" height="131.3" fill="none"/><path d="M435.0 1655.5 Q450.5 1655.5 466.0 1655.5" fill="none" stroke="#3a3a3a" stroke-width="7" stroke-linecap="round"/></g>
<g filter="url(#bl1)"><rect x="240.7" y="1547.9" width="364.9" height="131.3" fill="none"/><ellipse cx="477.0" cy="1651.5" rx="3.5" ry="3.0" fill="#111"/></g>
<g filter="url(#bl2)"><rect x="240.7" y="1547.9" width="364.9" height="131.3" fill="none"/><path d="M493.0 1575.5 Q509.5 1576.8 526.0 1575.0" fill="none" stroke="#111" stroke-width="9" stroke-linecap="round"/></g>
<g filter="url(#bl2)"><rect x="240.7" y="1547.9" width="364.9" height="131.3" fill="none"/><path d="M493.0 1601.0 Q509.5 1601.5 526.0 1600.0" fill="none" stroke="#1c1c1c" stroke-width="8" stroke-linecap="round"/></g>
<g filter="url(#bl4)"><rect x="240.7" y="1547.9" width="364.9" height="131.3" fill="none"/><rect x="489.0" y="1570.0" width="41.0" height="36.0" rx="6" fill="#b0b0b0" opacity="0.6"/></g>
<g filter="url(#bl2)"><rect x="240.7" y="1547.9" width="364.9" height="131.3" fill="none"/><path d="M493.0 1575.5 Q509.5 1576.8 526.0 1575.0" fill="none" stroke="#111" stroke-width="8" stroke-linecap="round"/></g>
<g filter="url(#bl2)"><rect x="240.7" y="1547.9" width="364.9" height="131.3" fill="none"/><path d="M493.0 1601.0 Q509.5 1601.5 526.0 1600.0" fill="none" stroke="#1c1c1c" stroke-width="7" stroke-linecap="round"/></g>
<g filter="url(#bl2)"><rect x="240.7" y="1547.9" width="364.9" height="131.3" fill="none"/><path d="M372.0 1656.0 Q392.0 1656.0 412.0 1656.0" fill="none" stroke="#c4c4c4" stroke-width="4" stroke-linecap="round"/></g>
<g filter="url(#bl3)"><rect x="240.7" y="1547.9" width="364.9" height="131.3" fill="none"/><path d="M492.0 1657.0 Q511.0 1657.0 530.0 1657.0" fill="none" stroke="#c8c8c8" stroke-width="5" stroke-linecap="round"/></g>
<g filter="url(#bl4)"><rect x="240.7" y="1547.9" width="364.9" height="131.3" fill="none"/><rect x="490.0" y="1660.0" width="42.0" height="18.0" rx="6" fill="#d4d4d4" opacity="0.8"/></g>
<g filter="url(#bl1)"><rect x="240.7" y="1547.9" width="364.9" height="131.3" fill="none"/><ellipse cx="266.6" cy="1659.6" rx="2.5" ry="2.0" fill="#333"/></g>
<g filter="url(#bl1)"><rect x="240.7" y="1547.9" width="364.9" height="131.3" fill="none"/><ellipse cx="295.0" cy="1626.5" rx="3.0" ry="2.5" fill="#222"/></g>
<g filter="url(#bl1)"><rect x="240.7" y="1547.9" width="364.9" height="131.3" fill="none"/><ellipse cx="495.0" cy="1623.6" rx="3.0" ry="2.5" fill="#222"/></g>
<g filter="url(#bl1)"><rect x="240.7" y="1547.9" width="364.9" height="131.3" fill="none"/><ellipse cx="511.5" cy="1622.7" rx="2.5" ry="2.0" fill="#333"/></g>
<g filter="url(#bl1)"><rect x="240.7" y="1547.9" width="364.9" height="131.3" fill="none"/><ellipse cx="567.6" cy="1561.0" rx="3.0" ry="2.0" fill="#555"/></g>
<g filter="url(#bl1)"><rect x="240.7" y="1547.9" width="364.9" height="131.3" fill="none"/><ellipse cx="460.0" cy="1572.0" rx="2.0" ry="2.0" fill="#666"/></g>
<g filter="url(#bl1)"><rect x="240.7" y="1547.9" width="364.9" height="131.3" fill="none"/><ellipse cx="443.0" cy="1609.0" rx="2.0" ry="2.0" fill="#555"/></g>
<g filter="url(#bl1)"><rect x="240.7" y="1547.9" width="364.9" height="131.3" fill="none"/><ellipse cx="466.0" cy="1611.0" rx="2.0" ry="2.0" fill="#555"/></g>
<g filter="url(#bl1)"><rect x="240.7" y="1547.9" width="364.9" height="131.3" fill="none"/><ellipse cx="447.0" cy="1639.0" rx="2.5" ry="2.0" fill="#444"/></g>
<g filter="url(#bl1)"><rect x="240.7" y="1547.9" width="364.9" height="131.3" fill="none"/><ellipse cx="546.0" cy="1595.0" rx="2.0" ry="2.0" fill="#666"/></g>
<g filter="url(#bl1)"><rect x="240.7" y="1547.9" width="364.9" height="131.3" fill="none"/><ellipse cx="533.0" cy="1596.0" rx="1.5" ry="1.5" fill="#666"/></g>
<g filter="url(#bl1)"><rect x="240.7" y="1547.9" width="364.9" height="131.3" fill="none"/><ellipse cx="371.0" cy="1651.0" rx="2.0" ry="2.0" fill="#666"/></g>
<g filter="url(#bl1)"><rect x="240.7" y="1547.9" width="364.9" height="131.3" fill="none"/><ellipse cx="374.0" cy="1660.0" rx="1.5" ry="1.5" fill="#666"/></g>
</g>
<rect x="242.2" y="1549.4" width="361.9" height="128.3" fill="none" stroke="#000" stroke-width="3"/>
<g clip-path="url(#cp14)">
<rect x="240.7" y="1686.0" width="364.9" height="59.4" fill="url(#gr14)"/>
<g filter="url(#bl3)"><rect x="240.7" y="1686.0" width="364.9" height="59.4" fill="none"/><ellipse cx="265.0" cy="1718.5" rx="18.0" ry="5.0" fill="#8c8c8c"/></g>
<g filter="url(#bl3)"><rect x="240.7" y="1686.0" width="364.9" height="59.4" fill="none"/><ellipse cx="321.0" cy="1719.5" rx="17.0" ry="3.5" fill="#bcbcbc"/></g>
<g filter="url(#bl3)"><rect x="240.7" y="1686.0" width="364.9" height="59.4" fill="none"/><ellipse cx="380.0" cy="1719.0" rx="14.0" ry="3.0" fill="#c8c8c8"/></g>
<g filter="url(#bl1)"><rect x="240.7" y="1686.0" width="364.9" height="59.4" fill="none"/><ellipse cx="374.0" cy="1719.0" rx="2.5" ry="2.0" fill="#555"/></g>
<g filter="url(#bl3)"><rect x="240.7" y="1686.0" width="364.9" height="59.4" fill="none"/><ellipse cx="436.0" cy="1720.0" rx="16.0" ry="3.0" fill="#cccccc"/></g>
<g filter="url(#bl3)"><rect x="240.7" y="1686.0" width="364.9" height="59.4" fill="none"/><ellipse cx="503.0" cy="1719.5" rx="32.0" ry="10.5" fill="#808080"/></g>
<g filter="url(#bl3)"><rect x="240.7" y="1686.0" width="364.9" height="59.4" fill="none"/><ellipse cx="569.0" cy="1720.0" rx="29.0" ry="7.0" fill="#7c7c7c"/></g>
<g filter="url(#bl1)"><rect x="240.7" y="1686.0" width="364.9" height="59.4" fill="none"/><ellipse cx="588.0" cy="1717.0" rx="3.0" ry="2.5" fill="#444"/></g>
<g filter="url(#bl1)"><rect x="240.7" y="1686.0" width="364.9" height="59.4" fill="none"/><ellipse cx="322.0" cy="1725.5" rx="1.5" ry="1.5" fill="#777"/></g>
</g>
<rect x="242.2" y="1687.5" width="361.9" height="56.4" fill="none" stroke="#000" stroke-width="3"/>
<g clip-path="url(#cp15)">
<rect x="240.7" y="1757.5" width="364.9" height="44.1" fill="#e0e0e0"/>
<g filter="url(#bl4)"><rect x="240.7" y="1757.5" width="364.9" height="44.1" fill="none"/><rect x="250.0" y="1760.0" width="50.0" height="40.0" rx="6" fill="#d2d2d2" opacity="0.8"/></g>
<g filter="url(#bl4)"><rect x="240.7" y="1757.5" width="364.9" height="44.1" fill="none"/><rect x="310.0" y="1760.0" width="42.0" height="40.0" rx="6" fill="#d8d8d8" opacity="0.8"/></g>
<g filter="url(#bl4)"><rect x="240.7" y="1757.5" width="364.9" height="44.1" fill="none"/><rect x="366.0" y="1772.0" width="48.0" height="28.0" rx="6" fill="#d4d4d4" opacity="0.8"/></g>
<g filter="url(#bl4)"><rect x="240.7" y="1757.5" width="364.9" height="44.1" fill="none"/><rect x="488.0" y="1760.0" width="46.0" height="40.0" rx="6" fill="#d6d6d6" opacity="0.8"/></g>
<g filter="url(#bl2)"><rect x="240.7" y="1757.5" width="364.9" height="44.1" fill="none"/><path d="M257.0 1780.5 Q275.5 1781.8 294.0 1780.0" fill="none" stroke="#141414" stroke-width="7" stroke-linecap="round"/></g>
<g filter="url(#bl2)"><rect x="240.7" y="1757.5" width="364.9" height="44.1" fill="none"/><path d="M314.0 1777.5 Q330.0 1777.2 346.0 1778.0" fill="none" stroke="#2a2a2a" stroke-width="5" stroke-linecap="round"/></g>
<g filter="url(#bl3)"><rect x="240.7" y="1757.5" width="364.9" height="44.1" fill="none"/><ellipse cx="384.0" cy="1784.0" rx="12.0" ry="3.0" fill="#b4b4b4"/></g>
<g filter="url(#bl1)"><rect x="240.7" y="1757.5" width="364.9" height="44.1" fill="none"/><ellipse cx="370.0" cy="1777.0" rx="2.5" ry="2.5" fill="#333"/></g>
<g filter="url(#bl1)"><rect x="240.7" y="1757.5" width="364.9" height="44.1" fill="none"/><ellipse cx="461.0" cy="1779.0" rx="3.5" ry="2.0" fill="#222"/></g>
<g filter="url(#bl1)"><rect x="240.7" y="1757.5" width="364.9" height="44.1" fill="none"/><ellipse cx="528.5" cy="1766.0" rx="3.0" ry="1.5" fill="#333"/></g>
<g filter="url(#bl1)"><rect x="240.7" y="1757.5" width="364.9" height="44.1" fill="none"/><ellipse cx="475.0" cy="1788.5" rx="1.5" ry="1.5" fill="#777"/></g>
</g>
<rect x="242.2" y="1759.0" width="361.9" height="41.1" fill="none" stroke="#000" stroke-width="3"/>
<text x="611.7" y="1600.2" font-size="40" textLength="177.3" lengthAdjust="spacingAndGlyphs">ETV6-WT</text>
<text x="611.7" y="1656.4" font-size="40" textLength="221.6" lengthAdjust="spacingAndGlyphs">ETV6-ΔETS</text>
<line x1="846.3" y1="1574.8" x2="846.3" y2="1657.6" stroke="#000" stroke-width="2"/>
<text x="855.2" y="1629.8" font-size="40" textLength="137.8" lengthAdjust="spacingAndGlyphs">anti-HA</text>
<text x="611.7" y="1727.3" font-size="40" textLength="174.3" lengthAdjust="spacingAndGlyphs">Histone 3</text>
<text x="611.7" y="1791.7" font-size="40" textLength="141.8" lengthAdjust="spacingAndGlyphs">Vinculin</text>
<text x="1270.0" y="1385.7" font-size="40" textLength="88.2" lengthAdjust="spacingAndGlyphs">EW8</text>
<text x="1148.3" y="1447.8" font-size="40" textLength="62.0" lengthAdjust="spacingAndGlyphs">Cyt</text>
<text x="1253.5" y="1447.8" font-size="40" textLength="71.5" lengthAdjust="spacingAndGlyphs">Nuc</text>
<text x="1357.0" y="1447.8" font-size="40" textLength="123.0" lengthAdjust="spacingAndGlyphs">Chrom</text>
<line x1="1136.5" y1="1465.5" x2="1220.0" y2="1465.5" stroke="#000" stroke-width="2.6"/>
<line x1="1253.5" y1="1465.5" x2="1336.3" y2="1465.5" stroke="#000" stroke-width="2.6"/>
<line x1="1376.0" y1="1465.5" x2="1459.2" y2="1465.5" stroke="#000" stroke-width="2.6"/>
<text x="1151.3" y="1503.1" font-size="40" text-anchor="middle">+</text>
<text x="1151.3" y="1536.4" font-size="40" text-anchor="middle">-</text>
<text x="1206.3" y="1501.9" font-size="40" text-anchor="middle">-</text>
<text x="1206.3" y="1537.1" font-size="40" text-anchor="middle">+</text>
<text x="1263.6" y="1506.1" font-size="40" text-anchor="middle">+</text>
<text x="1263.6" y="1538.4" font-size="40" text-anchor="middle">-</text>
<text x="1327.4" y="1504.4" font-size="40" text-anchor="middle">-</text>
<text x="1327.4" y="1540.1" font-size="40" text-anchor="middle">+</text>
<text x="1386.5" y="1509.6" font-size="40" text-anchor="middle">+</text>
<text x="1386.5" y="1542.4" font-size="40" text-anchor="middle">-</text>
<text x="1441.5" y="1508.4" font-size="40" text-anchor="middle">-</text>
<text x="1441.5" y="1543.6" font-size="40" text-anchor="middle">+</text>
<text x="1477.0" y="1501.0" font-size="28.5" textLength="125.2" lengthAdjust="spacingAndGlyphs">ETV6-WT</text>
<text x="1477.0" y="1538.2" font-size="28.5" textLength="156.0" lengthAdjust="spacingAndGlyphs">ETV6-ΔETS</text>
<text x="1108.5" y="1598.5" font-size="32" text-anchor="end">50</text>
<text x="1108.5" y="1638.0" font-size="32" text-anchor="end">kDa</text>
<line x1="1110.5" y1="1625.0" x2="1125.5" y2="1625.0" stroke="#000" stroke-width="2.6"/>
<text x="1110.0" y="1742.0" font-size="32" text-anchor="end">15</text>
<line x1="1112.0" y1="1739.0" x2="1125.5" y2="1739.0" stroke="#000" stroke-width="2.6"/>
<text x="1111.5" y="1777.5" font-size="32" text-anchor="end">150</text>
<line x1="1112.0" y1="1758.5" x2="1125.5" y2="1758.5" stroke="#000" stroke-width="2.6"/>
<g clip-path="url(#cp16)">
<rect x="1124.1" y="1555.9" width="365.2" height="121.9" fill="url(#gr16)"/>
<g filter="url(#bl5)"><rect x="1124.1" y="1555.9" width="365.2" height="121.9" fill="none"/><rect x="1128.0" y="1557.0" width="44.0" height="120.0" rx="6" fill="#9c9c9c" opacity="0.9"/></g>
<g filter="url(#bl5)"><rect x="1124.1" y="1555.9" width="365.2" height="121.9" fill="none"/><rect x="1184.0" y="1557.0" width="44.0" height="120.0" rx="6" fill="#b0b0b0" opacity="0.8"/></g>
<g filter="url(#bl3)"><rect x="1124.1" y="1555.9" width="365.2" height="121.9" fill="none"/><path d="M1134.0 1576.0 Q1150.0 1576.0 1166.0 1576.0" fill="none" stroke="#8a8a8a" stroke-width="7" stroke-linecap="round"/></g>
<g filter="url(#bl3)"><rect x="1124.1" y="1555.9" width="365.2" height="121.9" fill="none"/><path d="M1133.0 1604.5 Q1150.0 1604.5 1167.0 1604.5" fill="none" stroke="#222" stroke-width="8" stroke-linecap="round"/></g>
<g filter="url(#bl3)"><rect x="1124.1" y="1555.9" width="365.2" height="121.9" fill="none"/><path d="M1134.0 1661.0 Q1150.0 1661.0 1166.0 1661.0" fill="none" stroke="#7c7c7c" stroke-width="7" stroke-linecap="round"/></g>
<g filter="url(#bl1)"><rect x="1124.1" y="1555.9" width="365.2" height="121.9" fill="none"/><ellipse cx="1129.5" cy="1664.0" rx="2.5" ry="2.5" fill="#111"/></g>
<g filter="url(#bl3)"><rect x="1124.1" y="1555.9" width="365.2" height="121.9" fill="none"/><rect x="1190.0" y="1614.0" width="32.0" height="28.0" rx="6" fill="#0a0a0a"/></g>
<g filter="url(#bl3)"><rect x="1124.1" y="1555.9" width="365.2" height="121.9" fill="none"/><ellipse cx="1206.0" cy="1628.0" rx="18.0" ry="13.0" fill="#0a0a0a"/></g>
<g filter="url(#bl3)"><rect x="1124.1" y="1555.9" width="365.2" height="121.9" fill="none"/><rect x="1191.0" y="1647.0" width="30.0" height="19.0" rx="6" fill="#101010"/></g>
<g filter="url(#bl3)"><rect x="1124.1" y="1555.9" width="365.2" height="121.9" fill="none"/><ellipse cx="1206.0" cy="1657.0" rx="17.0" ry="9.0" fill="#0a0a0a"/></g>
<g filter="url(#bl2)"><rect x="1124.1" y="1555.9" width="365.2" height="121.9" fill="none"/><ellipse cx="1212.0" cy="1628.0" rx="5.0" ry="2.5" fill="#8c8c8c" opacity="0.8"/></g>
<g filter="url(#bl2)"><rect x="1124.1" y="1555.9" width="365.2" height="121.9" fill="none"/><ellipse cx="1210.0" cy="1650.0" rx="5.0" ry="2.5" fill="#8c8c8c" opacity="0.8"/></g>
<g filter="url(#bl1)"><rect x="1124.1" y="1555.9" width="365.2" height="121.9" fill="none"/><ellipse cx="1198.5" cy="1599.5" rx="4.0" ry="2.0" fill="#1a1a1a"/></g>
<g filter="url(#bl3)"><rect x="1124.1" y="1555.9" width="365.2" height="121.9" fill="none"/><path d="M1250.0 1577.5 Q1267.5 1577.5 1285.0 1577.5" fill="none" stroke="#a2a2a2" stroke-width="7" stroke-linecap="round"/></g>
<g filter="url(#bl3)"><rect x="1124.1" y="1555.9" width="365.2" height="121.9" fill="none"/><path d="M1250.0 1606.0 Q1267.5 1606.8 1285.0 1606.5" fill="none" stroke="#505050" stroke-width="7" stroke-linecap="round"/></g>
<g filter="url(#bl3)"><rect x="1124.1" y="1555.9" width="365.2" height="121.9" fill="none"/><path d="M1249.0 1660.0 Q1266.0 1660.0 1283.0 1660.0" fill="none" stroke="#8c8c8c" stroke-width="5" stroke-linecap="round"/></g>
<g filter="url(#bl4)"><rect x="1124.1" y="1555.9" width="365.2" height="121.9" fill="none"/><path d="M1310.0 1632.0 Q1325.5 1632.0 1341.0 1632.0" fill="none" stroke="#acacac" stroke-width="8" stroke-linecap="round"/></g>
<g filter="url(#bl3)"><rect x="1124.1" y="1555.9" width="365.2" height="121.9" fill="none"/><path d="M1309.0 1661.0 Q1325.5 1661.0 1342.0 1661.0" fill="none" stroke="#858585" stroke-width="6" stroke-linecap="round"/></g>
<g filter="url(#bl3)"><rect x="1124.1" y="1555.9" width="365.2" height="121.9" fill="none"/><path d="M1370.0 1583.0 Q1386.5 1583.0 1403.0 1583.0" fill="none" stroke="#989898" stroke-width="8" stroke-linecap="round"/></g>
<g filter="url(#bl3)"><rect x="1124.1" y="1555.9" width="365.2" height="121.9" fill="none"/><path d="M1370.0 1609.0 Q1386.5 1609.8 1403.0 1609.5" fill="none" stroke="#505050" stroke-width="7" stroke-linecap="round"/></g>
<g filter="url(#bl3)"><rect x="1124.1" y="1555.9" width="365.2" height="121.9" fill="none"/><path d="M1370.0 1663.0 Q1386.5 1663.0 1403.0 1663.0" fill="none" stroke="#a8a8a8" stroke-width="5" stroke-linecap="round"/></g>
<g filter="url(#bl1)"><rect x="1124.1" y="1555.9" width="365.2" height="121.9" fill="none"/><ellipse cx="1412.5" cy="1567.5" rx="2.0" ry="1.5" fill="#777"/></g>
</g>
<rect x="1125.6" y="1557.4" width="362.2" height="118.9" fill="none" stroke="#000" stroke-width="3"/>
<g clip-path="url(#cp17)">
<rect x="1124.1" y="1689.8" width="365.2" height="52.5" fill="#d6d6d6"/>
<g filter="url(#bl3)"><rect x="1124.1" y="1689.8" width="365.2" height="52.5" fill="none"/><ellipse cx="1150.0" cy="1709.5" rx="16.0" ry="5.0" fill="#2c2c2c"/></g>
<g filter="url(#bl3)"><rect x="1124.1" y="1689.8" width="365.2" height="52.5" fill="none"/><ellipse cx="1200.0" cy="1711.0" rx="19.0" ry="4.5" fill="#606060"/></g>
<g filter="url(#bl3)"><rect x="1124.1" y="1689.8" width="365.2" height="52.5" fill="none"/><ellipse cx="1262.0" cy="1714.5" rx="18.0" ry="3.5" fill="#b8b8b8"/></g>
<g filter="url(#bl3)"><rect x="1124.1" y="1689.8" width="365.2" height="52.5" fill="none"/><ellipse cx="1322.0" cy="1717.5" rx="18.0" ry="3.5" fill="#a4a4a4"/></g>
<g filter="url(#bl2)"><rect x="1124.1" y="1689.8" width="365.2" height="52.5" fill="none"/><ellipse cx="1385.0" cy="1718.5" rx="35.0" ry="12.5" fill="#000"/></g>
<g filter="url(#bl2)"><rect x="1124.1" y="1689.8" width="365.2" height="52.5" fill="none"/><ellipse cx="1448.0" cy="1723.0" rx="31.0" ry="9.5" fill="#000"/></g>
<g filter="url(#bl2)"><rect x="1124.1" y="1689.8" width="365.2" height="52.5" fill="none"/><rect x="1360.0" y="1712.0" width="110.0" height="17.0" rx="6" fill="#000"/></g>
<g filter="url(#bl1)"><rect x="1124.1" y="1689.8" width="365.2" height="52.5" fill="none"/><ellipse cx="1257.0" cy="1726.5" rx="1.5" ry="1.5" fill="#666"/></g>
<g filter="url(#bl1)"><rect x="1124.1" y="1689.8" width="365.2" height="52.5" fill="none"/><ellipse cx="1329.0" cy="1727.0" rx="1.5" ry="1.5" fill="#777"/></g>
<g filter="url(#bl1)"><rect x="1124.1" y="1689.8" width="365.2" height="52.5" fill="none"/><ellipse cx="1313.0" cy="1697.0" rx="1.5" ry="1.5" fill="#888"/></g>
</g>
<rect x="1125.6" y="1691.3" width="362.2" height="49.5" fill="none" stroke="#000" stroke-width="3"/>
<g clip-path="url(#cp18)">
<rect x="1124.1" y="1754.7" width="365.2" height="43.2" fill="#dedede"/>
<g filter="url(#bl4)"><rect x="1124.1" y="1754.7" width="365.2" height="43.2" fill="none"/><rect x="1128.0" y="1757.0" width="48.0" height="40.0" rx="6" fill="#d2d2d2" opacity="0.8"/></g>
<g filter="url(#bl4)"><rect x="1124.1" y="1754.7" width="365.2" height="43.2" fill="none"/><rect x="1186.0" y="1757.0" width="50.0" height="40.0" rx="6" fill="#d6d6d6" opacity="0.8"/></g>
<g filter="url(#bl4)"><rect x="1124.1" y="1754.7" width="365.2" height="43.2" fill="none"/><rect x="1250.0" y="1770.0" width="48.0" height="27.0" rx="6" fill="#d4d4d4" opacity="0.8"/></g>
<g filter="url(#bl2)"><rect x="1124.1" y="1754.7" width="365.2" height="43.2" fill="none"/><path d="M1134.0 1769.0 Q1154.5 1773.8 1175.0 1769.5" fill="none" stroke="#101010" stroke-width="7" stroke-linecap="round"/></g>
<g filter="url(#bl2)"><rect x="1124.1" y="1754.7" width="365.2" height="43.2" fill="none"/><path d="M1197.0 1773.0 Q1213.5 1774.0 1230.0 1773.0" fill="none" stroke="#1c1c1c" stroke-width="5" stroke-linecap="round"/></g>
<g filter="url(#bl3)"><rect x="1124.1" y="1754.7" width="365.2" height="43.2" fill="none"/><path d="M1258.0 1777.0 Q1275.0 1777.0 1292.0 1777.0" fill="none" stroke="#909090" stroke-width="7" stroke-linecap="round"/></g>
<g filter="url(#bl1)"><rect x="1124.1" y="1754.7" width="365.2" height="43.2" fill="none"/><ellipse cx="1270.5" cy="1764.5" rx="2.5" ry="2.0" fill="#444"/></g>
<g filter="url(#bl1)"><rect x="1124.1" y="1754.7" width="365.2" height="43.2" fill="none"/><ellipse cx="1471.5" cy="1766.0" rx="2.5" ry="2.5" fill="#888"/></g>
</g>
<rect x="1125.6" y="1756.2" width="362.2" height="40.2" fill="none" stroke="#000" stroke-width="3"/>
<text x="1494.7" y="1603.2" font-size="40" textLength="179.6" lengthAdjust="spacingAndGlyphs">ETV6-WT</text>
<text x="1494.7" y="1658.7" font-size="40" textLength="221.0" lengthAdjust="spacingAndGlyphs">ETV6-ΔETS</text>
<line x1="1725.2" y1="1583.7" x2="1725.2" y2="1664.7" stroke="#000" stroke-width="2"/>
<text x="1733.4" y="1636.9" font-size="40" textLength="137.6" lengthAdjust="spacingAndGlyphs">anti-HA</text>
<text x="1494.7" y="1728.5" font-size="40" textLength="172.6" lengthAdjust="spacingAndGlyphs">Histone 3</text>
<text x="1494.7" y="1791.7" font-size="40" textLength="141.3" lengthAdjust="spacingAndGlyphs">Vinculin</text>
<text x="29.5" y="1926.3" font-size="54" font-weight="bold" textLength="22.5" lengthAdjust="spacingAndGlyphs">f</text>
<line x1="199.6" y1="1927.4" x2="241.0" y2="1927.4" stroke="#000" stroke-width="2.6"/>
<circle cx="220.3" cy="1927.4" r="10.3" fill="#000"/>
<text x="264.4" y="1937.8" font-size="31" textLength="207.3" lengthAdjust="spacingAndGlyphs">-DOX sgChr2.2</text>
<line x1="199.6" y1="1981.8" x2="241.0" y2="1981.8" stroke="#fb2c12" stroke-width="2.6"/>
<circle cx="220.3" cy="1981.8" r="10.3" fill="#fb2c12"/>
<text x="264.4" y="1991.2" font-size="31" textLength="192.8" lengthAdjust="spacingAndGlyphs">-DOX sgETV6</text>
<line x1="570.2" y1="1927.4" x2="612.8" y2="1927.4" stroke="#000" stroke-width="2.6"/>
<rect x="581.0" y="1917.2" width="20.5" height="20.5" fill="#000"/>
<text x="636.6" y="1937.8" font-size="31" textLength="213.6" lengthAdjust="spacingAndGlyphs">+DOX sgChr2.2</text>
<line x1="570.2" y1="1981.8" x2="612.8" y2="1981.8" stroke="#fb2c12" stroke-width="2.6"/>
<rect x="581.0" y="1971.5" width="20.5" height="20.5" fill="#fb2c12"/>
<text x="636.6" y="1991.2" font-size="31" textLength="199.1" lengthAdjust="spacingAndGlyphs">+DOX sgETV6</text>
<text x="51.8" y="2305.7" font-size="28" text-anchor="middle" transform="rotate(-90 51.8 2305.7)" textLength="203.4" lengthAdjust="spacingAndGlyphs">Relative Viability</text>
<text x="167.0" y="2115.7" font-size="32" textLength="228.0" lengthAdjust="spacingAndGlyphs">A673 ETV6-WT</text>
<line x1="110.3" y1="2156.1" x2="110.3" y2="2473.3" stroke="#000" stroke-width="2.6"/>
<line x1="102.3" y1="2472.0" x2="427.1" y2="2472.0" stroke="#000" stroke-width="2.6"/>
<line x1="101.3" y1="2157.4" x2="110.3" y2="2157.4" stroke="#000" stroke-width="2.6"/>
<text x="0" y="0" font-size="28.5" transform="translate(103.0 2166.2) scale(1 1.15)" text-anchor="end">80</text>
<line x1="101.3" y1="2235.8" x2="110.3" y2="2235.8" stroke="#000" stroke-width="2.6"/>
<text x="0" y="0" font-size="28.5" transform="translate(103.0 2244.6) scale(1 1.15)" text-anchor="end">60</text>
<line x1="101.3" y1="2314.5" x2="110.3" y2="2314.5" stroke="#000" stroke-width="2.6"/>
<text x="0" y="0" font-size="28.5" transform="translate(103.0 2323.3) scale(1 1.15)" text-anchor="end">40</text>
<line x1="101.3" y1="2393.0" x2="110.3" y2="2393.0" stroke="#000" stroke-width="2.6"/>
<text x="0" y="0" font-size="28.5" transform="translate(103.0 2401.8) scale(1 1.15)" text-anchor="end">20</text>
<line x1="101.3" y1="2471.0" x2="110.3" y2="2471.0" stroke="#000" stroke-width="2.6"/>
<text x="0" y="0" font-size="28.5" transform="translate(103.0 2479.8) scale(1 1.15)" text-anchor="end">0</text>
<line x1="110.3" y1="2472.0" x2="110.3" y2="2482.5" stroke="#000" stroke-width="2.6"/>
<text x="0" y="0" font-size="28.5" transform="translate(110.8 2505.2) scale(1 1.15)" text-anchor="middle">0</text>
<line x1="245.8" y1="2472.0" x2="245.8" y2="2482.5" stroke="#000" stroke-width="2.6"/>
<text x="0" y="0" font-size="28.5" transform="translate(246.3 2505.2) scale(1 1.15)" text-anchor="middle">3</text>
<line x1="336.1" y1="2472.0" x2="336.1" y2="2482.5" stroke="#000" stroke-width="2.6"/>
<text x="0" y="0" font-size="28.5" transform="translate(336.6 2505.2) scale(1 1.15)" text-anchor="middle">5</text>
<line x1="425.8" y1="2472.0" x2="425.8" y2="2482.5" stroke="#000" stroke-width="2.6"/>
<text x="0" y="0" font-size="28.5" transform="translate(426.3 2505.2) scale(1 1.15)" text-anchor="middle">7</text>
<text x="245.8" y="2539.7" font-size="28" textLength="48.2" lengthAdjust="spacingAndGlyphs">Day</text>
<line x1="425.8" y1="2185.8" x2="425.8" y2="2228.0" stroke="#fb2c12" stroke-width="2.4"/>
<line x1="419.3" y1="2185.8" x2="432.3" y2="2185.8" stroke="#fb2c12" stroke-width="2.4"/>
<line x1="419.3" y1="2228.0" x2="432.3" y2="2228.0" stroke="#fb2c12" stroke-width="2.4"/>
<line x1="425.8" y1="2289.7" x2="425.8" y2="2317.0" stroke="#fb2c12" stroke-width="2.4"/>
<line x1="419.3" y1="2289.7" x2="432.3" y2="2289.7" stroke="#fb2c12" stroke-width="2.4"/>
<line x1="419.3" y1="2317.0" x2="432.3" y2="2317.0" stroke="#fb2c12" stroke-width="2.4"/>
<line x1="336.1" y1="2328.0" x2="336.1" y2="2348.4" stroke="#fb2c12" stroke-width="2.4"/>
<line x1="329.6" y1="2328.0" x2="342.6" y2="2328.0" stroke="#fb2c12" stroke-width="2.4"/>
<line x1="329.6" y1="2348.4" x2="342.6" y2="2348.4" stroke="#fb2c12" stroke-width="2.4"/>
<line x1="336.1" y1="2326.0" x2="336.1" y2="2344.0" stroke="#fb2c12" stroke-width="2.4"/>
<line x1="329.6" y1="2326.0" x2="342.6" y2="2326.0" stroke="#fb2c12" stroke-width="2.4"/>
<line x1="329.6" y1="2344.0" x2="342.6" y2="2344.0" stroke="#fb2c12" stroke-width="2.4"/>
<line x1="425.8" y1="2191.3" x2="425.8" y2="2224.5" stroke="#000" stroke-width="2.4"/>
<line x1="419.3" y1="2191.3" x2="432.3" y2="2191.3" stroke="#000" stroke-width="2.4"/>
<line x1="419.3" y1="2224.5" x2="432.3" y2="2224.5" stroke="#000" stroke-width="2.4"/>
<line x1="425.8" y1="2196.0" x2="425.8" y2="2220.0" stroke="#000" stroke-width="2.4"/>
<line x1="419.3" y1="2196.0" x2="432.3" y2="2196.0" stroke="#000" stroke-width="2.4"/>
<line x1="419.3" y1="2220.0" x2="432.3" y2="2220.0" stroke="#000" stroke-width="2.4"/>
<line x1="336.1" y1="2309.7" x2="336.1" y2="2331.0" stroke="#000" stroke-width="2.4"/>
<line x1="329.6" y1="2309.7" x2="342.6" y2="2309.7" stroke="#000" stroke-width="2.4"/>
<line x1="329.6" y1="2331.0" x2="342.6" y2="2331.0" stroke="#000" stroke-width="2.4"/>
<line x1="245.8" y1="2430.0" x2="245.8" y2="2440.0" stroke="#fb2c12" stroke-width="2.4"/>
<line x1="239.3" y1="2430.0" x2="252.3" y2="2430.0" stroke="#fb2c12" stroke-width="2.4"/>
<line x1="239.3" y1="2440.0" x2="252.3" y2="2440.0" stroke="#fb2c12" stroke-width="2.4"/>
<polyline points="110.3,2468.7 245.8,2435.0 336.1,2338.0 425.8,2303.2" fill="none" stroke="#fb2c12" stroke-width="2.7" stroke-linejoin="round"/>
<polyline points="110.3,2468.7 245.8,2434.0 336.1,2335.0 425.8,2208.0" fill="none" stroke="#fb2c12" stroke-width="2.7" stroke-linejoin="round" stroke-dasharray="19 8"/>
<polyline points="110.3,2468.7 245.8,2439.7 336.1,2320.3 425.8,2210.6" fill="none" stroke="#000" stroke-width="2.7" stroke-linejoin="round"/>
<polyline points="110.3,2468.7 245.8,2438.0 336.1,2321.0 425.8,2211.5" fill="none" stroke="#000" stroke-width="2.7" stroke-linejoin="round" stroke-dasharray="19 8"/>
<circle cx="110.3" cy="2468.7" r="5.9" fill="#fb2c12"/>
<circle cx="245.8" cy="2435.0" r="5.9" fill="#fb2c12"/>
<circle cx="336.1" cy="2338.0" r="5.9" fill="#fb2c12"/>
<circle cx="425.8" cy="2303.2" r="5.9" fill="#fb2c12"/>
<rect x="104.5" y="2462.9" width="11.5" height="11.5" fill="#fb2c12"/>
<rect x="240.1" y="2428.2" width="11.5" height="11.5" fill="#fb2c12"/>
<rect x="330.4" y="2329.2" width="11.5" height="11.5" fill="#fb2c12"/>
<rect x="420.1" y="2202.2" width="11.5" height="11.5" fill="#fb2c12"/>
<circle cx="110.3" cy="2468.7" r="5.9" fill="#000"/>
<circle cx="245.8" cy="2439.7" r="5.9" fill="#000"/>
<circle cx="336.1" cy="2320.3" r="5.9" fill="#000"/>
<circle cx="425.8" cy="2210.6" r="5.9" fill="#000"/>
<rect x="104.5" y="2462.9" width="11.5" height="11.5" fill="#000"/>
<rect x="240.1" y="2432.2" width="11.5" height="11.5" fill="#000"/>
<rect x="330.4" y="2315.2" width="11.5" height="11.5" fill="#000"/>
<rect x="420.1" y="2205.8" width="11.5" height="11.5" fill="#000"/>
<line x1="459.7" y1="2197.7" x2="459.7" y2="2216.0" stroke="#000" stroke-width="2.4"/>
<text x="466.0" y="2211.6" font-size="28" textLength="27.5" lengthAdjust="spacingAndGlyphs">ns</text>
<line x1="440.3" y1="2204.0" x2="440.3" y2="2303.0" stroke="#000" stroke-width="2.2"/>
<text x="450.0" y="2273.5" font-size="28" textLength="30.6" lengthAdjust="spacingAndGlyphs">p=</text>
<text x="450.0" y="2307.4" font-size="28" textLength="86.0" lengthAdjust="spacingAndGlyphs">0.0169</text>
<text x="654.5" y="2115.7" font-size="32" textLength="261.3" lengthAdjust="spacingAndGlyphs">A673 ETV6-ΔETS</text>
<line x1="612.6" y1="2147.1" x2="612.6" y2="2465.2" stroke="#000" stroke-width="2.6"/>
<line x1="604.5" y1="2463.9" x2="930.0" y2="2463.9" stroke="#000" stroke-width="2.6"/>
<line x1="603.6" y1="2148.4" x2="612.6" y2="2148.4" stroke="#000" stroke-width="2.6"/>
<text x="0" y="0" font-size="28.5" transform="translate(600.5 2157.2) scale(1 1.15)" text-anchor="end">80</text>
<line x1="603.6" y1="2226.8" x2="612.6" y2="2226.8" stroke="#000" stroke-width="2.6"/>
<text x="0" y="0" font-size="28.5" transform="translate(600.5 2235.6) scale(1 1.15)" text-anchor="end">60</text>
<line x1="603.6" y1="2305.2" x2="612.6" y2="2305.2" stroke="#000" stroke-width="2.6"/>
<text x="0" y="0" font-size="28.5" transform="translate(600.5 2314.0) scale(1 1.15)" text-anchor="end">40</text>
<line x1="603.6" y1="2384.2" x2="612.6" y2="2384.2" stroke="#000" stroke-width="2.6"/>
<text x="0" y="0" font-size="28.5" transform="translate(600.5 2393.0) scale(1 1.15)" text-anchor="end">20</text>
<line x1="603.6" y1="2463.2" x2="612.6" y2="2463.2" stroke="#000" stroke-width="2.6"/>
<text x="0" y="0" font-size="28.5" transform="translate(600.5 2472.0) scale(1 1.15)" text-anchor="end">0</text>
<line x1="612.6" y1="2463.9" x2="612.6" y2="2474.4" stroke="#000" stroke-width="2.6"/>
<text x="0" y="0" font-size="28.5" transform="translate(613.1 2498.0) scale(1 1.15)" text-anchor="middle">0</text>
<line x1="748.0" y1="2463.9" x2="748.0" y2="2474.4" stroke="#000" stroke-width="2.6"/>
<text x="0" y="0" font-size="28.5" transform="translate(748.5 2498.0) scale(1 1.15)" text-anchor="middle">3</text>
<line x1="838.4" y1="2463.9" x2="838.4" y2="2474.4" stroke="#000" stroke-width="2.6"/>
<text x="0" y="0" font-size="28.5" transform="translate(838.9 2498.0) scale(1 1.15)" text-anchor="middle">5</text>
<line x1="928.7" y1="2463.9" x2="928.7" y2="2474.4" stroke="#000" stroke-width="2.6"/>
<text x="0" y="0" font-size="28.5" transform="translate(929.2 2498.0) scale(1 1.15)" text-anchor="middle">7</text>
<text x="736.0" y="2539.7" font-size="28" textLength="48.2" lengthAdjust="spacingAndGlyphs">Day</text>
<line x1="838.4" y1="2168.7" x2="838.4" y2="2184.8" stroke="#000" stroke-width="2.4"/>
<line x1="831.9" y1="2168.7" x2="844.9" y2="2168.7" stroke="#000" stroke-width="2.4"/>
<line x1="831.9" y1="2184.8" x2="844.9" y2="2184.8" stroke="#000" stroke-width="2.4"/>
<line x1="928.7" y1="2188.0" x2="928.7" y2="2219.4" stroke="#000" stroke-width="2.4"/>
<line x1="922.2" y1="2188.0" x2="935.2" y2="2188.0" stroke="#000" stroke-width="2.4"/>
<line x1="922.2" y1="2219.4" x2="935.2" y2="2219.4" stroke="#000" stroke-width="2.4"/>
<line x1="838.4" y1="2329.0" x2="838.4" y2="2349.4" stroke="#fb2c12" stroke-width="2.4"/>
<line x1="831.9" y1="2329.0" x2="844.9" y2="2329.0" stroke="#fb2c12" stroke-width="2.4"/>
<line x1="831.9" y1="2349.4" x2="844.9" y2="2349.4" stroke="#fb2c12" stroke-width="2.4"/>
<polyline points="612.6,2460.0 748.0,2432.3 838.4,2339.0 928.7,2270.3" fill="none" stroke="#fb2c12" stroke-width="2.7" stroke-linejoin="round"/>
<polyline points="612.6,2460.0 748.0,2432.3 838.4,2383.2 928.7,2359.7" fill="none" stroke="#fb2c12" stroke-width="2.7" stroke-linejoin="round" stroke-dasharray="19 8"/>
<polyline points="612.6,2460.0 748.0,2393.5 838.4,2176.0 928.7,2205.0" fill="none" stroke="#000" stroke-width="2.7" stroke-linejoin="round"/>
<polyline points="612.6,2460.0 748.0,2393.5 838.4,2207.4 928.7,2209.0" fill="none" stroke="#000" stroke-width="2.7" stroke-linejoin="round" stroke-dasharray="19 8"/>
<circle cx="612.6" cy="2460.0" r="5.9" fill="#fb2c12"/>
<circle cx="748.0" cy="2432.3" r="5.9" fill="#fb2c12"/>
<circle cx="838.4" cy="2339.0" r="5.9" fill="#fb2c12"/>
<circle cx="928.7" cy="2270.3" r="5.9" fill="#fb2c12"/>
<rect x="606.9" y="2454.2" width="11.5" height="11.5" fill="#fb2c12"/>
<rect x="742.2" y="2426.6" width="11.5" height="11.5" fill="#fb2c12"/>
<rect x="832.6" y="2377.4" width="11.5" height="11.5" fill="#fb2c12"/>
<rect x="923.0" y="2353.9" width="11.5" height="11.5" fill="#fb2c12"/>
<circle cx="612.6" cy="2460.0" r="5.9" fill="#000"/>
<circle cx="748.0" cy="2393.5" r="5.9" fill="#000"/>
<circle cx="838.4" cy="2176.0" r="5.9" fill="#000"/>
<circle cx="928.7" cy="2205.0" r="5.9" fill="#000"/>
<rect x="606.9" y="2454.2" width="11.5" height="11.5" fill="#000"/>
<rect x="742.2" y="2387.8" width="11.5" height="11.5" fill="#000"/>
<rect x="832.6" y="2201.7" width="11.5" height="11.5" fill="#000"/>
<rect x="923.0" y="2203.2" width="11.5" height="11.5" fill="#000"/>
<line x1="948.0" y1="2201.0" x2="948.0" y2="2358.0" stroke="#000" stroke-width="2.2"/>
<text x="958.4" y="2322.6" font-size="28" textLength="30.6" lengthAdjust="spacingAndGlyphs">p=</text>
<text x="958.4" y="2355.8" font-size="28" textLength="86.4" lengthAdjust="spacingAndGlyphs">0.0003</text>
<text x="1193.9" y="2115.7" font-size="32" textLength="222.6" lengthAdjust="spacingAndGlyphs">EW8 ETV6-WT</text>
<line x1="1136.5" y1="2154.5" x2="1136.5" y2="2473.3" stroke="#000" stroke-width="2.6"/>
<line x1="1126.0" y1="2472.0" x2="1453.3" y2="2472.0" stroke="#000" stroke-width="2.6"/>
<line x1="1127.5" y1="2155.8" x2="1136.5" y2="2155.8" stroke="#000" stroke-width="2.6"/>
<text x="0" y="0" font-size="28.5" transform="translate(1127.5 2164.6) scale(1 1.15)" text-anchor="end">80</text>
<line x1="1127.5" y1="2234.8" x2="1136.5" y2="2234.8" stroke="#000" stroke-width="2.6"/>
<text x="0" y="0" font-size="28.5" transform="translate(1127.5 2243.6) scale(1 1.15)" text-anchor="end">60</text>
<line x1="1127.5" y1="2313.2" x2="1136.5" y2="2313.2" stroke="#000" stroke-width="2.6"/>
<text x="0" y="0" font-size="28.5" transform="translate(1127.5 2322.0) scale(1 1.15)" text-anchor="end">40</text>
<line x1="1127.5" y1="2392.3" x2="1136.5" y2="2392.3" stroke="#000" stroke-width="2.6"/>
<text x="0" y="0" font-size="28.5" transform="translate(1127.5 2401.1) scale(1 1.15)" text-anchor="end">20</text>
<line x1="1127.5" y1="2471.0" x2="1136.5" y2="2471.0" stroke="#000" stroke-width="2.6"/>
<text x="0" y="0" font-size="28.5" transform="translate(1127.5 2479.8) scale(1 1.15)" text-anchor="end">0</text>
<line x1="1136.5" y1="2472.0" x2="1136.5" y2="2482.5" stroke="#000" stroke-width="2.6"/>
<text x="0" y="0" font-size="28.5" transform="translate(1137.0 2505.2) scale(1 1.15)" text-anchor="middle">0</text>
<line x1="1272.0" y1="2472.0" x2="1272.0" y2="2482.5" stroke="#000" stroke-width="2.6"/>
<text x="0" y="0" font-size="28.5" transform="translate(1272.5 2505.2) scale(1 1.15)" text-anchor="middle">3</text>
<line x1="1361.6" y1="2472.0" x2="1361.6" y2="2482.5" stroke="#000" stroke-width="2.6"/>
<text x="0" y="0" font-size="28.5" transform="translate(1362.1 2505.2) scale(1 1.15)" text-anchor="middle">5</text>
<line x1="1452.0" y1="2472.0" x2="1452.0" y2="2482.5" stroke="#000" stroke-width="2.6"/>
<text x="0" y="0" font-size="28.5" transform="translate(1452.5 2505.2) scale(1 1.15)" text-anchor="middle">7</text>
<text x="1271.3" y="2539.7" font-size="28" textLength="48.2" lengthAdjust="spacingAndGlyphs">Day</text>
<line x1="1452.0" y1="2191.3" x2="1452.0" y2="2226.8" stroke="#000" stroke-width="2.4"/>
<line x1="1445.5" y1="2191.3" x2="1458.5" y2="2191.3" stroke="#000" stroke-width="2.4"/>
<line x1="1445.5" y1="2226.8" x2="1458.5" y2="2226.8" stroke="#000" stroke-width="2.4"/>
<line x1="1452.0" y1="2240.3" x2="1452.0" y2="2259.0" stroke="#fb2c12" stroke-width="2.4"/>
<line x1="1445.5" y1="2240.3" x2="1458.5" y2="2240.3" stroke="#fb2c12" stroke-width="2.4"/>
<line x1="1445.5" y1="2259.0" x2="1458.5" y2="2259.0" stroke="#fb2c12" stroke-width="2.4"/>
<line x1="1452.0" y1="2344.5" x2="1452.0" y2="2359.0" stroke="#fb2c12" stroke-width="2.4"/>
<line x1="1445.5" y1="2344.5" x2="1458.5" y2="2344.5" stroke="#fb2c12" stroke-width="2.4"/>
<line x1="1445.5" y1="2359.0" x2="1458.5" y2="2359.0" stroke="#fb2c12" stroke-width="2.4"/>
<line x1="1361.6" y1="2331.6" x2="1361.6" y2="2346.0" stroke="#fb2c12" stroke-width="2.4"/>
<line x1="1355.1" y1="2331.6" x2="1368.1" y2="2331.6" stroke="#fb2c12" stroke-width="2.4"/>
<line x1="1355.1" y1="2346.0" x2="1368.1" y2="2346.0" stroke="#fb2c12" stroke-width="2.4"/>
<line x1="1452.0" y1="2277.0" x2="1452.0" y2="2291.0" stroke="#000" stroke-width="2.4"/>
<line x1="1445.5" y1="2277.0" x2="1458.5" y2="2277.0" stroke="#000" stroke-width="2.4"/>
<line x1="1445.5" y1="2291.0" x2="1458.5" y2="2291.0" stroke="#000" stroke-width="2.4"/>
<line x1="1272.0" y1="2426.0" x2="1272.0" y2="2436.0" stroke="#fb2c12" stroke-width="2.4"/>
<line x1="1265.5" y1="2426.0" x2="1278.5" y2="2426.0" stroke="#fb2c12" stroke-width="2.4"/>
<line x1="1265.5" y1="2436.0" x2="1278.5" y2="2436.0" stroke="#fb2c12" stroke-width="2.4"/>
<polyline points="1136.5,2468.0 1272.0,2443.0 1361.6,2381.6 1452.0,2352.0" fill="none" stroke="#fb2c12" stroke-width="2.7" stroke-linejoin="round"/>
<polyline points="1136.5,2468.0 1272.0,2431.0 1361.6,2339.0 1452.0,2249.4" fill="none" stroke="#fb2c12" stroke-width="2.7" stroke-linejoin="round" stroke-dasharray="19 8"/>
<polyline points="1136.5,2468.0 1272.0,2438.0 1361.6,2365.5 1452.0,2283.9" fill="none" stroke="#000" stroke-width="2.7" stroke-linejoin="round" stroke-dasharray="19 8"/>
<polyline points="1136.5,2468.0 1272.0,2438.0 1361.6,2325.2 1452.0,2209.0" fill="none" stroke="#000" stroke-width="2.7" stroke-linejoin="round"/>
<circle cx="1136.5" cy="2468.0" r="5.9" fill="#fb2c12"/>
<circle cx="1272.0" cy="2443.0" r="5.9" fill="#fb2c12"/>
<circle cx="1361.6" cy="2381.6" r="5.9" fill="#fb2c12"/>
<circle cx="1452.0" cy="2352.0" r="5.9" fill="#fb2c12"/>
<rect x="1130.8" y="2462.2" width="11.5" height="11.5" fill="#fb2c12"/>
<rect x="1266.2" y="2425.2" width="11.5" height="11.5" fill="#fb2c12"/>
<rect x="1355.8" y="2333.2" width="11.5" height="11.5" fill="#fb2c12"/>
<rect x="1446.2" y="2243.7" width="11.5" height="11.5" fill="#fb2c12"/>
<rect x="1130.8" y="2462.2" width="11.5" height="11.5" fill="#000"/>
<rect x="1266.2" y="2432.2" width="11.5" height="11.5" fill="#000"/>
<rect x="1355.8" y="2359.8" width="11.5" height="11.5" fill="#000"/>
<rect x="1446.2" y="2278.2" width="11.5" height="11.5" fill="#000"/>
<circle cx="1136.5" cy="2468.0" r="5.9" fill="#000"/>
<circle cx="1272.0" cy="2438.0" r="5.9" fill="#000"/>
<circle cx="1361.6" cy="2325.2" r="5.9" fill="#000"/>
<circle cx="1452.0" cy="2209.0" r="5.9" fill="#000"/>
<line x1="1472.0" y1="2204.2" x2="1472.0" y2="2352.6" stroke="#000" stroke-width="2.2"/>
<line x1="1490.0" y1="2241.3" x2="1490.0" y2="2281.6" stroke="#000" stroke-width="2.2"/>
<text x="1500.3" y="2250.3" font-size="28" textLength="29.7" lengthAdjust="spacingAndGlyphs">ns</text>
<text x="1483.2" y="2322.0" font-size="28" textLength="30.7" lengthAdjust="spacingAndGlyphs">p=</text>
<text x="1483.2" y="2358.0" font-size="28" textLength="87.0" lengthAdjust="spacingAndGlyphs">0.0060</text>
<text x="1671.0" y="2115.7" font-size="32" textLength="255.8" lengthAdjust="spacingAndGlyphs">EW8 ETV6-ΔETS</text>
<line x1="1631.4" y1="2166.4" x2="1631.4" y2="2474.8" stroke="#000" stroke-width="2.6"/>
<line x1="1621.0" y1="2473.5" x2="1938.5" y2="2473.5" stroke="#000" stroke-width="2.6"/>
<line x1="1622.4" y1="2167.7" x2="1631.4" y2="2167.7" stroke="#000" stroke-width="2.6"/>
<text x="0" y="0" font-size="28.5" transform="translate(1622.5 2176.5) scale(1 1.15)" text-anchor="end">100</text>
<line x1="1622.4" y1="2230.0" x2="1631.4" y2="2230.0" stroke="#000" stroke-width="2.6"/>
<text x="0" y="0" font-size="28.5" transform="translate(1622.5 2238.8) scale(1 1.15)" text-anchor="end">80</text>
<line x1="1622.4" y1="2290.6" x2="1631.4" y2="2290.6" stroke="#000" stroke-width="2.6"/>
<text x="0" y="0" font-size="28.5" transform="translate(1622.5 2299.4) scale(1 1.15)" text-anchor="end">60</text>
<line x1="1622.4" y1="2351.6" x2="1631.4" y2="2351.6" stroke="#000" stroke-width="2.6"/>
<text x="0" y="0" font-size="28.5" transform="translate(1622.5 2360.4) scale(1 1.15)" text-anchor="end">40</text>
<line x1="1622.4" y1="2412.3" x2="1631.4" y2="2412.3" stroke="#000" stroke-width="2.6"/>
<text x="0" y="0" font-size="28.5" transform="translate(1622.5 2421.1) scale(1 1.15)" text-anchor="end">20</text>
<line x1="1622.4" y1="2472.9" x2="1631.4" y2="2472.9" stroke="#000" stroke-width="2.6"/>
<text x="0" y="0" font-size="28.5" transform="translate(1622.5 2481.7) scale(1 1.15)" text-anchor="end">0</text>
<line x1="1631.4" y1="2473.5" x2="1631.4" y2="2484.0" stroke="#000" stroke-width="2.6"/>
<text x="0" y="0" font-size="28.5" transform="translate(1631.9 2506.2) scale(1 1.15)" text-anchor="middle">0</text>
<line x1="1762.3" y1="2473.5" x2="1762.3" y2="2484.0" stroke="#000" stroke-width="2.6"/>
<text x="0" y="0" font-size="28.5" transform="translate(1762.8 2506.2) scale(1 1.15)" text-anchor="middle">3</text>
<line x1="1849.0" y1="2473.5" x2="1849.0" y2="2484.0" stroke="#000" stroke-width="2.6"/>
<text x="0" y="0" font-size="28.5" transform="translate(1849.5 2506.2) scale(1 1.15)" text-anchor="middle">5</text>
<line x1="1937.2" y1="2473.5" x2="1937.2" y2="2484.0" stroke="#000" stroke-width="2.6"/>
<text x="0" y="0" font-size="28.5" transform="translate(1937.7 2506.2) scale(1 1.15)" text-anchor="middle">7</text>
<text x="1762.3" y="2539.7" font-size="28" textLength="48.2" lengthAdjust="spacingAndGlyphs">Day</text>
<line x1="1937.2" y1="2225.8" x2="1937.2" y2="2246.0" stroke="#000" stroke-width="2.4"/>
<line x1="1930.7" y1="2225.8" x2="1943.7" y2="2225.8" stroke="#000" stroke-width="2.4"/>
<line x1="1930.7" y1="2246.0" x2="1943.7" y2="2246.0" stroke="#000" stroke-width="2.4"/>
<line x1="1849.0" y1="2234.8" x2="1849.0" y2="2254.8" stroke="#000" stroke-width="2.4"/>
<line x1="1842.5" y1="2234.8" x2="1855.5" y2="2234.8" stroke="#000" stroke-width="2.4"/>
<line x1="1842.5" y1="2254.8" x2="1855.5" y2="2254.8" stroke="#000" stroke-width="2.4"/>
<line x1="1937.2" y1="2384.0" x2="1937.2" y2="2396.0" stroke="#fb2c12" stroke-width="2.4"/>
<line x1="1930.7" y1="2384.0" x2="1943.7" y2="2384.0" stroke="#fb2c12" stroke-width="2.4"/>
<line x1="1930.7" y1="2396.0" x2="1943.7" y2="2396.0" stroke="#fb2c12" stroke-width="2.4"/>
<line x1="1937.2" y1="2244.0" x2="1937.2" y2="2256.0" stroke="#000" stroke-width="2.4"/>
<line x1="1930.7" y1="2244.0" x2="1943.7" y2="2244.0" stroke="#000" stroke-width="2.4"/>
<line x1="1930.7" y1="2256.0" x2="1943.7" y2="2256.0" stroke="#000" stroke-width="2.4"/>
<line x1="1849.0" y1="2409.0" x2="1849.0" y2="2421.0" stroke="#fb2c12" stroke-width="2.4"/>
<line x1="1842.5" y1="2409.0" x2="1855.5" y2="2409.0" stroke="#fb2c12" stroke-width="2.4"/>
<line x1="1842.5" y1="2421.0" x2="1855.5" y2="2421.0" stroke="#fb2c12" stroke-width="2.4"/>
<line x1="1762.3" y1="2446.0" x2="1762.3" y2="2457.0" stroke="#fb2c12" stroke-width="2.4"/>
<line x1="1755.8" y1="2446.0" x2="1768.8" y2="2446.0" stroke="#fb2c12" stroke-width="2.4"/>
<line x1="1755.8" y1="2457.0" x2="1768.8" y2="2457.0" stroke="#fb2c12" stroke-width="2.4"/>
<polyline points="1631.4,2471.3 1762.3,2451.6 1849.0,2423.5 1937.2,2409.7" fill="none" stroke="#fb2c12" stroke-width="2.7" stroke-linejoin="round" stroke-dasharray="19 8"/>
<polyline points="1631.4,2471.3 1762.3,2451.6 1849.0,2415.5 1937.2,2390.3" fill="none" stroke="#fb2c12" stroke-width="2.7" stroke-linejoin="round"/>
<polyline points="1631.4,2471.3 1762.3,2411.3 1849.0,2238.0 1937.2,2250.0" fill="none" stroke="#000" stroke-width="2.7" stroke-linejoin="round" stroke-dasharray="19 8"/>
<polyline points="1631.4,2471.3 1762.3,2411.3 1849.0,2243.0 1937.2,2235.8" fill="none" stroke="#000" stroke-width="2.7" stroke-linejoin="round"/>
<rect x="1625.7" y="2465.6" width="11.5" height="11.5" fill="#fb2c12"/>
<rect x="1756.5" y="2445.8" width="11.5" height="11.5" fill="#fb2c12"/>
<rect x="1843.2" y="2417.8" width="11.5" height="11.5" fill="#fb2c12"/>
<rect x="1931.5" y="2403.9" width="11.5" height="11.5" fill="#fb2c12"/>
<circle cx="1631.4" cy="2471.3" r="5.9" fill="#fb2c12"/>
<circle cx="1762.3" cy="2451.6" r="5.9" fill="#fb2c12"/>
<circle cx="1849.0" cy="2415.5" r="5.9" fill="#fb2c12"/>
<circle cx="1937.2" cy="2390.3" r="5.9" fill="#fb2c12"/>
<rect x="1625.7" y="2465.6" width="11.5" height="11.5" fill="#000"/>
<rect x="1756.5" y="2405.6" width="11.5" height="11.5" fill="#000"/>
<rect x="1843.2" y="2232.2" width="11.5" height="11.5" fill="#000"/>
<rect x="1931.5" y="2244.2" width="11.5" height="11.5" fill="#000"/>
<circle cx="1631.4" cy="2471.3" r="5.9" fill="#000"/>
<circle cx="1762.3" cy="2411.3" r="5.9" fill="#000"/>
<circle cx="1849.0" cy="2243.0" r="5.9" fill="#000"/>
<circle cx="1937.2" cy="2235.8" r="5.9" fill="#000"/>
<line x1="1957.2" y1="2246.0" x2="1957.2" y2="2412.3" stroke="#000" stroke-width="2.2"/>
<text x="1969.4" y="2376.8" font-size="28" textLength="29.6" lengthAdjust="spacingAndGlyphs">p&lt;</text>
<text x="1969.4" y="2413.9" font-size="28" textLength="86.4" lengthAdjust="spacingAndGlyphs">0.0001</text>
</g>
</svg>
</body></html>
